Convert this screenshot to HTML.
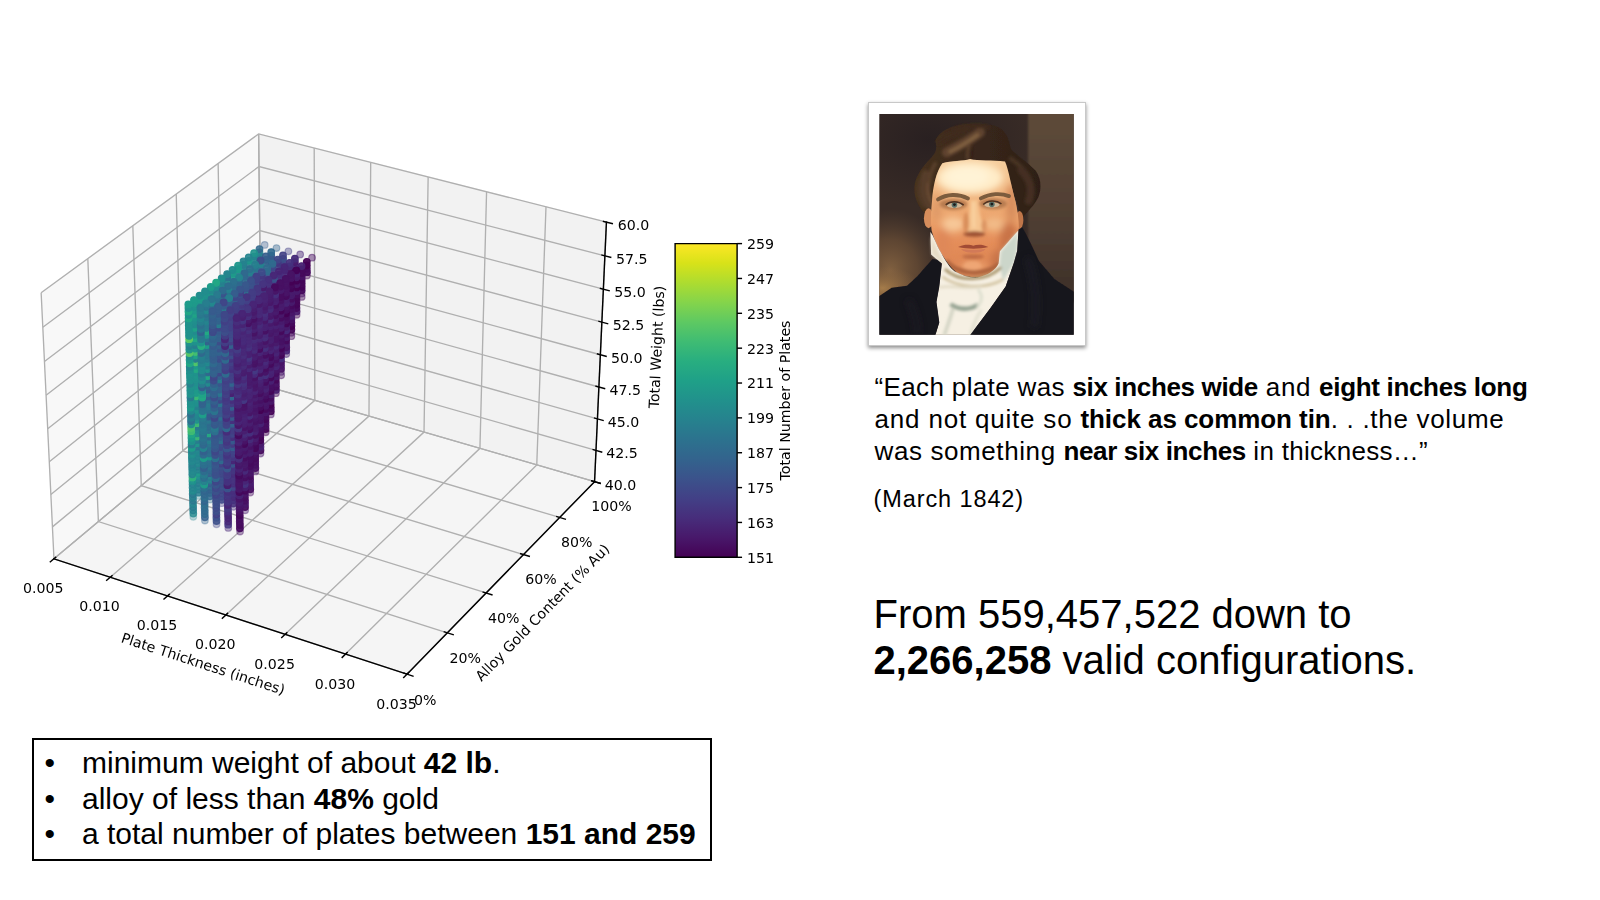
<!DOCTYPE html>
<html lang="en">
<head>
<meta charset="utf-8">
<title>Valid configurations</title>
<style>
html,body{margin:0;padding:0;background:#fff;}
body{width:1600px;height:900px;position:relative;overflow:hidden;font-family:"Liberation Sans",sans-serif;color:#000;}
#plot{filter:blur(.35px);}
#plot text{font-family:"DejaVu Sans",sans-serif;font-size:10px;fill:#000;}
.ln{position:absolute;white-space:nowrap;line-height:1;}
.q{font-size:26px;}
.q b,.f b,.bl b{font-weight:700;}
.f{font-size:40px;}
#box{position:absolute;left:32px;top:737.7px;width:680px;height:123.6px;border:2.4px solid #000;box-sizing:border-box;}
.bl{font-size:30px;}
.bu{display:inline-block;width:37.5px;}
#frame{position:absolute;left:867.7px;top:101.8px;width:218.2px;height:244.5px;background:#fff;box-shadow:0 1.5px 4px rgba(0,0,0,.45);border:1px solid #c8c8c8;box-sizing:border-box;}
</style>
</head>
<body>
<svg id="plot" width="840" height="680" viewBox="0 0 592.760 479.853" style="position:absolute;left:0px;top:60px">
<path d="M38.08 352.01L184.54 229.24L182.5 52.19L29.03 164.19" fill="#f2f2f2" stroke="#f2f2f2" stroke-width="1" opacity="0.5" stroke-linejoin="miter"/>
<path d="M184.54 229.24L419.56 297.55L427.94 114.4L182.5 52.19" fill="#e6e6e6" stroke="#e6e6e6" stroke-width="1" opacity="0.5" stroke-linejoin="miter"/>
<path d="M38.08 352.01L287.21 433.38L419.56 297.55L184.54 229.24" fill="#ececec" stroke="#ececec" stroke-width="1" opacity="0.5" stroke-linejoin="miter"/>
<path d="M38.08 352.01L184.54 229.24L182.5 52.19" fill="none" stroke="#b0b0b0" stroke-width="0.95"/>
<path d="M77.8 364.98L222.15 240.18L221.72 62.13" fill="none" stroke="#b0b0b0" stroke-width="0.95"/>
<path d="M118.23 378.19L260.37 251.28L261.59 72.24" fill="none" stroke="#b0b0b0" stroke-width="0.95"/>
<path d="M159.36 391.62L299.21 262.57L302.13 82.51" fill="none" stroke="#b0b0b0" stroke-width="0.95"/>
<path d="M201.22 405.29L338.67 274.04L343.36 92.96" fill="none" stroke="#b0b0b0" stroke-width="0.95"/>
<path d="M243.83 419.21L378.78 285.7L385.29 103.59" fill="none" stroke="#b0b0b0" stroke-width="0.95"/>
<path d="M287.21 433.38L419.56 297.55L427.94 114.4" fill="none" stroke="#b0b0b0" stroke-width="0.95"/>
<path d="M29.03 164.19L38.08 352.01L287.21 433.38" fill="none" stroke="#b0b0b0" stroke-width="0.95"/>
<path d="M61.97 140.15L69.42 325.74L315.63 404.21" fill="none" stroke="#b0b0b0" stroke-width="0.95"/>
<path d="M93.73 116.97L99.68 300.37L343.02 376.1" fill="none" stroke="#b0b0b0" stroke-width="0.95"/>
<path d="M124.36 94.62L128.92 275.86L369.44 348.99" fill="none" stroke="#b0b0b0" stroke-width="0.95"/>
<path d="M153.93 73.04L157.19 252.16L394.93 322.82" fill="none" stroke="#b0b0b0" stroke-width="0.95"/>
<path d="M182.5 52.19L184.54 229.24L419.56 297.55" fill="none" stroke="#b0b0b0" stroke-width="0.95"/>
<path d="M419.56 297.55L184.54 229.24L38.08 352.01" fill="none" stroke="#b0b0b0" stroke-width="0.95"/>
<path d="M420.56 275.52L184.29 207.91L36.99 329.45" fill="none" stroke="#b0b0b0" stroke-width="0.95"/>
<path d="M421.58 253.25L184.04 186.35L35.89 306.64" fill="none" stroke="#b0b0b0" stroke-width="0.95"/>
<path d="M422.62 230.74L183.79 164.57L34.78 283.57" fill="none" stroke="#b0b0b0" stroke-width="0.95"/>
<path d="M423.66 207.98L183.54 142.56L33.66 260.23" fill="none" stroke="#b0b0b0" stroke-width="0.95"/>
<path d="M424.71 184.97L183.28 120.32L32.52 236.63" fill="none" stroke="#b0b0b0" stroke-width="0.95"/>
<path d="M425.78 161.71L183.03 97.85L31.37 212.76" fill="none" stroke="#b0b0b0" stroke-width="0.95"/>
<path d="M426.85 138.19L182.76 75.14L30.21 188.61" fill="none" stroke="#b0b0b0" stroke-width="0.95"/>
<path d="M427.94 114.4L182.5 52.19L29.03 164.19" fill="none" stroke="#b0b0b0" stroke-width="0.95"/>
<path d="M38.08 352.01L287.21 433.38" fill="none" stroke="#000" stroke-width="1" stroke-linecap="square"/>
<path d="M39.35 350.94L35.52 354.15" fill="none" stroke="#000" stroke-width="1" stroke-linecap="square"/>
<text x="30.55" y="375.83" text-anchor="middle">0.005</text>
<path d="M79.06 363.9L75.28 367.16" fill="none" stroke="#000" stroke-width="1" stroke-linecap="square"/>
<text x="70.30" y="388.97" text-anchor="middle">0.010</text>
<path d="M119.46 377.08L115.74 380.4" fill="none" stroke="#000" stroke-width="1" stroke-linecap="square"/>
<text x="110.75" y="402.34" text-anchor="middle">0.015</text>
<path d="M160.58 390.49L156.91 393.88" fill="none" stroke="#000" stroke-width="1" stroke-linecap="square"/>
<text x="151.91" y="415.95" text-anchor="middle">0.020</text>
<path d="M202.42 404.15L198.81 407.59" fill="none" stroke="#000" stroke-width="1" stroke-linecap="square"/>
<text x="193.80" y="429.79" text-anchor="middle">0.025</text>
<path d="M245.01 418.04L241.46 421.55" fill="none" stroke="#000" stroke-width="1" stroke-linecap="square"/>
<text x="236.44" y="443.89" text-anchor="middle">0.030</text>
<path d="M288.36 432.19L284.89 435.76" fill="none" stroke="#000" stroke-width="1" stroke-linecap="square"/>
<text x="279.85" y="458.24" text-anchor="middle">0.035</text>
<text x="142.26" y="429.40" transform="rotate(-341.913 142.26 429.40)" text-anchor="middle">Plate Thickness (inches)</text>
<path d="M419.56 297.55L287.21 433.38" fill="none" stroke="#000" stroke-width="1" stroke-linecap="square"/>
<path d="M285.11 432.69L291.41 434.75" fill="none" stroke="#000" stroke-width="1" stroke-linecap="square"/>
<text x="300.16" y="455.08" text-anchor="middle">0%</text>
<path d="M313.55 403.55L319.78 405.53" fill="none" stroke="#000" stroke-width="1" stroke-linecap="square"/>
<text x="328.35" y="425.65" text-anchor="middle">20%</text>
<path d="M340.97 375.46L347.12 377.38" fill="none" stroke="#000" stroke-width="1" stroke-linecap="square"/>
<text x="355.52" y="397.29" text-anchor="middle">40%</text>
<path d="M367.42 348.37L373.49 350.22" fill="none" stroke="#000" stroke-width="1" stroke-linecap="square"/>
<text x="381.73" y="369.94" text-anchor="middle">60%</text>
<path d="M392.94 322.23L398.93 324.01" fill="none" stroke="#000" stroke-width="1" stroke-linecap="square"/>
<text x="407.02" y="343.54" text-anchor="middle">80%</text>
<path d="M417.58 296.98L423.51 298.7" fill="none" stroke="#000" stroke-width="1" stroke-linecap="square"/>
<text x="431.44" y="318.05" text-anchor="middle">100%</text>
<text x="385.28" y="392.35" transform="rotate(-45.742 385.28 392.35)" text-anchor="middle">Alloy Gold Content (% Au)</text>
<path d="M419.56 297.55L427.94 114.4" fill="none" stroke="#000" stroke-width="1" stroke-linecap="square"/>
<path d="M417.58 296.98L423.51 298.7" fill="none" stroke="#000" stroke-width="1" stroke-linecap="square"/>
<text x="437.83" y="303.14" text-anchor="middle">40.0</text>
<path d="M418.58 274.95L424.54 276.66" fill="none" stroke="#000" stroke-width="1" stroke-linecap="square"/>
<text x="438.93" y="281.14" text-anchor="middle">42.5</text>
<path d="M419.59 252.69L425.58 254.38" fill="none" stroke="#000" stroke-width="1" stroke-linecap="square"/>
<text x="440.05" y="258.90" text-anchor="middle">45.0</text>
<path d="M420.61 230.19L426.63 231.85" fill="none" stroke="#000" stroke-width="1" stroke-linecap="square"/>
<text x="441.18" y="236.41" text-anchor="middle">47.5</text>
<path d="M421.64 207.43L427.7 209.08" fill="none" stroke="#000" stroke-width="1" stroke-linecap="square"/>
<text x="442.32" y="213.68" text-anchor="middle">50.0</text>
<path d="M422.68 184.43L428.77 186.06" fill="none" stroke="#000" stroke-width="1" stroke-linecap="square"/>
<text x="443.47" y="190.70" text-anchor="middle">52.5</text>
<path d="M423.74 161.17L429.86 162.79" fill="none" stroke="#000" stroke-width="1" stroke-linecap="square"/>
<text x="444.64" y="167.47" text-anchor="middle">55.0</text>
<path d="M424.8 137.66L430.96 139.25" fill="none" stroke="#000" stroke-width="1" stroke-linecap="square"/>
<text x="445.82" y="143.98" text-anchor="middle">57.5</text>
<path d="M425.88 113.88L432.08 115.45" fill="none" stroke="#000" stroke-width="1" stroke-linecap="square"/>
<text x="447.01" y="120.22" text-anchor="middle">60.0</text>
<text x="466.90" y="202.69" transform="rotate(-87.378 466.90 202.69)" text-anchor="middle">Total Weight (lbs)</text>
<g class="sc" stroke-width=".8"><g fill-opacity="0.30" stroke-opacity="0.30"><circle r="2.35" cx="136.4" cy="322.4" fill="#25838e" stroke="#25838e"/><circle r="2.35" cx="140.0" cy="307.6" fill="#26828e" stroke="#26828e"/></g><g fill-opacity="0.75" stroke-opacity="0.75"><circle r="2.35" cx="136.4" cy="320.1" fill="#238a8d" stroke="#238a8d"/></g><g fill-opacity="0.30" stroke-opacity="0.30"><circle r="2.35" cx="143.6" cy="295.1" fill="#25838e" stroke="#25838e"/><circle r="2.35" cx="147.2" cy="280.3" fill="#20938c" stroke="#20938c"/><circle r="2.35" cx="150.8" cy="267.7" fill="#25848e" stroke="#25848e"/></g><g fill-opacity="0.80" stroke-opacity="0.80"><circle r="2.35" cx="143.6" cy="292.8" fill="#287d8e" stroke="#287d8e"/><circle r="2.35" cx="139.9" cy="305.3" fill="#277e8e" stroke="#277e8e"/><circle r="2.35" cx="136.3" cy="317.8" fill="#26818e" stroke="#26818e"/></g><g fill-opacity="0.35" stroke-opacity="0.35"><circle r="2.35" cx="158.0" cy="240.4" fill="#1e9c89" stroke="#1e9c89"/></g><g fill-opacity="0.80" stroke-opacity="0.80"><circle r="2.35" cx="150.7" cy="265.4" fill="#2fb47c" stroke="#2fb47c"/><circle r="2.35" cx="136.3" cy="315.5" fill="#287c8e" stroke="#287c8e"/><circle r="2.35" cx="143.5" cy="290.5" fill="#26828e" stroke="#26828e"/><circle r="2.35" cx="147.1" cy="277.9" fill="#24878e" stroke="#24878e"/><circle r="2.35" cx="139.9" cy="303.0" fill="#277e8e" stroke="#277e8e"/></g><g fill-opacity="0.35" stroke-opacity="0.35"><circle r="2.35" cx="154.4" cy="252.9" fill="#2fb47c" stroke="#2fb47c"/><circle r="2.35" cx="144.6" cy="325.0" fill="#32658e" stroke="#32658e"/><circle r="2.35" cx="165.2" cy="212.9" fill="#25858e" stroke="#25858e"/></g><g fill-opacity="0.80" stroke-opacity="0.80"><circle r="2.35" cx="143.5" cy="288.2" fill="#26828e" stroke="#26828e"/></g><g fill-opacity="0.35" stroke-opacity="0.35"><circle r="2.35" cx="161.5" cy="225.5" fill="#24878e" stroke="#24878e"/></g><g fill-opacity="0.80" stroke-opacity="0.80"><circle r="2.35" cx="139.8" cy="300.7" fill="#25858e" stroke="#25858e"/><circle r="2.35" cx="150.7" cy="263.1" fill="#26828e" stroke="#26828e"/><circle r="2.35" cx="157.9" cy="238.0" fill="#26818e" stroke="#26818e"/><circle r="2.35" cx="154.3" cy="250.5" fill="#2e6e8e" stroke="#2e6e8e"/><circle r="2.35" cx="136.2" cy="313.2" fill="#24868e" stroke="#24868e"/></g><g fill-opacity="0.35" stroke-opacity="0.35"><circle r="2.35" cx="148.2" cy="310.2" fill="#2e6f8e" stroke="#2e6f8e"/></g><g fill-opacity="0.80" stroke-opacity="0.80"><circle r="2.35" cx="144.6" cy="322.7" fill="#34608d" stroke="#34608d"/></g><g fill-opacity="0.35" stroke-opacity="0.35"><circle r="2.35" cx="151.8" cy="297.6" fill="#31668e" stroke="#31668e"/></g><g fill-opacity="0.80" stroke-opacity="0.80"><circle r="2.35" cx="143.4" cy="285.8" fill="#2eb37c" stroke="#2eb37c"/><circle r="2.35" cx="157.9" cy="235.7" fill="#25858e" stroke="#25858e"/></g><g fill-opacity="0.35" stroke-opacity="0.35"><circle r="2.35" cx="165.1" cy="210.6" fill="#228d8d" stroke="#228d8d"/></g><g fill-opacity="0.80" stroke-opacity="0.80"><circle r="2.35" cx="139.8" cy="298.4" fill="#287c8e" stroke="#287c8e"/><circle r="2.35" cx="136.2" cy="310.9" fill="#2a778e" stroke="#2a778e"/></g><g fill-opacity="0.35" stroke-opacity="0.35"><circle r="2.35" cx="172.4" cy="185.5" fill="#27808e" stroke="#27808e"/><circle r="2.35" cx="168.8" cy="198.0" fill="#25838e" stroke="#25838e"/></g><g fill-opacity="0.80" stroke-opacity="0.80"><circle r="2.35" cx="161.5" cy="223.1" fill="#23898e" stroke="#23898e"/><circle r="2.35" cx="144.5" cy="320.4" fill="#306a8e" stroke="#306a8e"/><circle r="2.35" cx="151.8" cy="295.3" fill="#30698e" stroke="#30698e"/></g><g fill-opacity="0.35" stroke-opacity="0.35"><circle r="2.35" cx="159.0" cy="270.2" fill="#31668e" stroke="#31668e"/></g><g fill-opacity="0.80" stroke-opacity="0.80"><circle r="2.35" cx="148.1" cy="307.9" fill="#31668e" stroke="#31668e"/></g><g fill-opacity="0.35" stroke-opacity="0.35"><circle r="2.35" cx="155.4" cy="282.8" fill="#3a548c" stroke="#3a548c"/><circle r="2.35" cx="176.0" cy="170.5" fill="#20928c" stroke="#20928c"/></g><g fill-opacity="0.85" stroke-opacity="0.85"><circle r="2.35" cx="168.7" cy="195.7" fill="#23888e" stroke="#23888e"/><circle r="2.35" cx="143.4" cy="283.5" fill="#2a778e" stroke="#2a778e"/></g><g fill-opacity="0.35" stroke-opacity="0.35"><circle r="2.35" cx="172.3" cy="183.1" fill="#25858e" stroke="#25858e"/></g><g fill-opacity="0.85" stroke-opacity="0.85"><circle r="2.35" cx="165.1" cy="208.2" fill="#3aba76" stroke="#3aba76"/></g><g fill-opacity="0.35" stroke-opacity="0.35"><circle r="2.35" cx="179.6" cy="158.0" fill="#28ae80" stroke="#28ae80"/></g><g fill-opacity="0.85" stroke-opacity="0.85"><circle r="2.35" cx="139.7" cy="296.1" fill="#26828e" stroke="#26828e"/><circle r="2.35" cx="136.1" cy="308.6" fill="#27808e" stroke="#27808e"/><circle r="2.35" cx="144.5" cy="318.1" fill="#306a8e" stroke="#306a8e"/><circle r="2.35" cx="148.1" cy="305.5" fill="#30698e" stroke="#30698e"/></g><g fill-opacity="0.35" stroke-opacity="0.35"><circle r="2.35" cx="166.2" cy="242.8" fill="#1e9d89" stroke="#1e9d89"/><circle r="2.35" cx="162.6" cy="255.3" fill="#355f8d" stroke="#355f8d"/></g><g fill-opacity="0.85" stroke-opacity="0.85"><circle r="2.35" cx="151.7" cy="293.0" fill="#297b8e" stroke="#297b8e"/><circle r="2.35" cx="155.3" cy="280.4" fill="#34618d" stroke="#34618d"/><circle r="2.35" cx="159.0" cy="267.9" fill="#2e6e8e" stroke="#2e6e8e"/></g><g fill-opacity="0.35" stroke-opacity="0.35"><circle r="2.35" cx="152.8" cy="327.6" fill="#404588" stroke="#404588"/></g><g fill-opacity="0.85" stroke-opacity="0.85"><circle r="2.35" cx="139.7" cy="293.7" fill="#218e8d" stroke="#218e8d"/><circle r="2.35" cx="143.3" cy="281.2" fill="#27808e" stroke="#27808e"/></g><g fill-opacity="0.35" stroke-opacity="0.35"><circle r="2.35" cx="179.6" cy="155.6" fill="#25858e" stroke="#25858e"/></g><g fill-opacity="0.85" stroke-opacity="0.85"><circle r="2.35" cx="175.9" cy="168.2" fill="#277f8e" stroke="#277f8e"/><circle r="2.35" cx="172.3" cy="180.7" fill="#2e6d8e" stroke="#2e6d8e"/></g><g fill-opacity="0.35" stroke-opacity="0.35"><circle r="2.35" cx="186.8" cy="130.5" fill="#365d8d" stroke="#365d8d"/><circle r="2.35" cx="183.2" cy="143.0" fill="#287d8e" stroke="#287d8e"/></g><g fill-opacity="0.85" stroke-opacity="0.85"><circle r="2.35" cx="136.0" cy="306.3" fill="#29798e" stroke="#29798e"/><circle r="2.35" cx="162.5" cy="253.0" fill="#3b528b" stroke="#3b528b"/></g><g fill-opacity="0.35" stroke-opacity="0.35"><circle r="2.35" cx="173.4" cy="215.3" fill="#3d4e8a" stroke="#3d4e8a"/></g><g fill-opacity="0.85" stroke-opacity="0.85"><circle r="2.35" cx="158.9" cy="265.6" fill="#3c4f8a" stroke="#3c4f8a"/><circle r="2.35" cx="144.4" cy="315.8" fill="#2f6c8e" stroke="#2f6c8e"/></g><g fill-opacity="0.35" stroke-opacity="0.35"><circle r="2.35" cx="169.8" cy="227.9" fill="#32648e" stroke="#32648e"/></g><g fill-opacity="0.85" stroke-opacity="0.85"><circle r="2.35" cx="148.0" cy="303.2" fill="#34608d" stroke="#34608d"/><circle r="2.35" cx="166.2" cy="240.4" fill="#2d718e" stroke="#2d718e"/><circle r="2.35" cx="151.7" cy="290.7" fill="#27808e" stroke="#27808e"/></g><g fill-opacity="0.35" stroke-opacity="0.35"><circle r="2.35" cx="156.4" cy="312.7" fill="#424086" stroke="#424086"/><circle r="2.35" cx="160.0" cy="300.2" fill="#3d4e8a" stroke="#3d4e8a"/></g><g fill-opacity="0.85" stroke-opacity="0.85"><circle r="2.35" cx="152.8" cy="325.3" fill="#3c4f8a" stroke="#3c4f8a"/><circle r="2.35" cx="139.6" cy="291.4" fill="#1f998a" stroke="#1f998a"/><circle r="2.35" cx="183.2" cy="140.6" fill="#25858e" stroke="#25858e"/><circle r="2.35" cx="143.3" cy="278.9" fill="#26818e" stroke="#26818e"/><circle r="2.35" cx="136.0" cy="304.0" fill="#228b8d" stroke="#228b8d"/><circle r="2.35" cx="179.5" cy="153.2" fill="#25848e" stroke="#25848e"/><circle r="2.35" cx="166.1" cy="238.1" fill="#277e8e" stroke="#277e8e"/><circle r="2.35" cx="148.0" cy="300.9" fill="#31688e" stroke="#31688e"/><circle r="2.35" cx="169.8" cy="225.5" fill="#2b748e" stroke="#2b748e"/></g><g fill-opacity="0.35" stroke-opacity="0.35"><circle r="2.35" cx="180.6" cy="187.8" fill="#3a548c" stroke="#3a548c"/><circle r="2.35" cx="177.0" cy="200.4" fill="#2d708e" stroke="#2d708e"/></g><g fill-opacity="0.85" stroke-opacity="0.85"><circle r="2.35" cx="144.4" cy="313.5" fill="#2e6e8e" stroke="#2e6e8e"/><circle r="2.35" cx="151.6" cy="288.4" fill="#3b528b" stroke="#3b528b"/></g><g fill-opacity="0.35" stroke-opacity="0.35"><circle r="2.35" cx="173.4" cy="212.9" fill="#2d708e" stroke="#2d708e"/><circle r="2.35" cx="167.3" cy="272.7" fill="#3f4788" stroke="#3f4788"/></g><g fill-opacity="0.85" stroke-opacity="0.85"><circle r="2.35" cx="152.7" cy="323.0" fill="#3c508b" stroke="#3c508b"/><circle r="2.35" cx="156.4" cy="310.4" fill="#3e4a89" stroke="#3e4a89"/></g><g fill-opacity="0.35" stroke-opacity="0.35"><circle r="2.35" cx="163.6" cy="285.3" fill="#3c4f8a" stroke="#3c4f8a"/></g><g fill-opacity="0.85" stroke-opacity="0.85"><circle r="2.35" cx="160.0" cy="297.8" fill="#3e4989" stroke="#3e4989"/><circle r="2.35" cx="183.1" cy="138.2" fill="#287d8e" stroke="#287d8e"/><circle r="2.35" cx="139.6" cy="289.1" fill="#25838e" stroke="#25838e"/><circle r="2.35" cx="135.9" cy="301.7" fill="#25858e" stroke="#25858e"/><circle r="2.35" cx="143.2" cy="276.5" fill="#23888e" stroke="#23888e"/><circle r="2.35" cx="177.0" cy="198.0" fill="#2d718e" stroke="#2d718e"/><circle r="2.35" cx="144.3" cy="311.2" fill="#32648e" stroke="#32648e"/><circle r="2.35" cx="173.4" cy="210.6" fill="#2a778e" stroke="#2a778e"/><circle r="2.35" cx="147.9" cy="298.6" fill="#355e8d" stroke="#355e8d"/></g><g fill-opacity="0.40" stroke-opacity="0.40"><circle r="2.35" cx="184.2" cy="172.9" fill="#39568c" stroke="#39568c"/></g><g fill-opacity="0.85" stroke-opacity="0.85"><circle r="2.35" cx="151.6" cy="286.0" fill="#306a8e" stroke="#306a8e"/></g><g fill-opacity="0.40" stroke-opacity="0.40"><circle r="2.35" cx="180.6" cy="185.4" fill="#31688e" stroke="#31688e"/><circle r="2.35" cx="187.9" cy="160.3" fill="#32658e" stroke="#32658e"/></g><g fill-opacity="0.85" stroke-opacity="0.85"><circle r="2.35" cx="152.7" cy="320.7" fill="#424186" stroke="#424186"/><circle r="2.35" cx="163.6" cy="282.9" fill="#3d4e8a" stroke="#3d4e8a"/><circle r="2.35" cx="156.3" cy="308.1" fill="#3e4a89" stroke="#3e4a89"/></g><g fill-opacity="0.40" stroke-opacity="0.40"><circle r="2.35" cx="170.8" cy="257.8" fill="#3c4f8a" stroke="#3c4f8a"/><circle r="2.35" cx="174.5" cy="245.2" fill="#443b84" stroke="#443b84"/></g><g fill-opacity="0.85" stroke-opacity="0.85"><circle r="2.35" cx="167.2" cy="270.4" fill="#3e4a89" stroke="#3e4a89"/><circle r="2.35" cx="160.0" cy="295.5" fill="#424186" stroke="#424186"/></g><g fill-opacity="0.40" stroke-opacity="0.40"><circle r="2.35" cx="161.1" cy="330.2" fill="#482979" stroke="#482979"/></g><g fill-opacity="0.85" stroke-opacity="0.85"><circle r="2.35" cx="135.9" cy="299.4" fill="#25838e" stroke="#25838e"/><circle r="2.35" cx="183.1" cy="135.8" fill="#26818e" stroke="#26818e"/><circle r="2.35" cx="139.5" cy="286.8" fill="#297b8e" stroke="#297b8e"/><circle r="2.35" cx="143.1" cy="274.2" fill="#238a8d" stroke="#238a8d"/><circle r="2.35" cx="147.9" cy="296.3" fill="#26828e" stroke="#26828e"/><circle r="2.35" cx="151.5" cy="283.7" fill="#32658e" stroke="#32658e"/><circle r="2.35" cx="184.2" cy="170.5" fill="#1f998a" stroke="#1f998a"/><circle r="2.35" cx="180.6" cy="183.0" fill="#3d4d8a" stroke="#3d4d8a"/></g><g fill-opacity="0.40" stroke-opacity="0.40"><circle r="2.35" cx="191.5" cy="145.3" fill="#32648e" stroke="#32648e"/><circle r="2.35" cx="187.9" cy="157.9" fill="#32648e" stroke="#32648e"/><circle r="2.35" cx="195.1" cy="132.7" fill="#32658e" stroke="#32658e"/></g><g fill-opacity="0.85" stroke-opacity="0.85"><circle r="2.35" cx="144.3" cy="308.9" fill="#2e6e8e" stroke="#2e6e8e"/><circle r="2.35" cx="159.9" cy="293.2" fill="#424086" stroke="#424086"/><circle r="2.35" cx="167.2" cy="268.0" fill="#443a83" stroke="#443a83"/><circle r="2.35" cx="170.8" cy="255.4" fill="#404688" stroke="#404688"/><circle r="2.35" cx="156.3" cy="305.8" fill="#3f4889" stroke="#3f4889"/></g><g fill-opacity="0.40" stroke-opacity="0.40"><circle r="2.35" cx="178.1" cy="230.3" fill="#306a8e" stroke="#306a8e"/><circle r="2.35" cx="181.7" cy="217.7" fill="#3f4788" stroke="#3f4788"/></g><g fill-opacity="0.85" stroke-opacity="0.85"><circle r="2.35" cx="152.7" cy="318.4" fill="#3c4f8a" stroke="#3c4f8a"/><circle r="2.35" cx="174.4" cy="242.9" fill="#414487" stroke="#414487"/><circle r="2.35" cx="161.0" cy="327.9" fill="#453882" stroke="#453882"/></g><g fill-opacity="0.40" stroke-opacity="0.40"><circle r="2.35" cx="164.7" cy="315.3" fill="#472d7b" stroke="#472d7b"/><circle r="2.35" cx="168.3" cy="302.7" fill="#46327e" stroke="#46327e"/></g><g fill-opacity="0.85" stroke-opacity="0.85"><circle r="2.35" cx="135.8" cy="297.0" fill="#1f948c" stroke="#1f948c"/><circle r="2.35" cx="139.5" cy="284.4" fill="#238a8d" stroke="#238a8d"/><circle r="2.35" cx="183.1" cy="133.4" fill="#31688e" stroke="#31688e"/><circle r="2.35" cx="143.1" cy="271.9" fill="#24868e" stroke="#24868e"/><circle r="2.35" cx="151.5" cy="281.4" fill="#2e6e8e" stroke="#2e6e8e"/><circle r="2.35" cx="147.9" cy="294.0" fill="#287c8e" stroke="#287c8e"/><circle r="2.35" cx="144.2" cy="306.5" fill="#31678e" stroke="#31678e"/><circle r="2.35" cx="191.5" cy="142.9" fill="#355f8d" stroke="#355f8d"/><circle r="2.35" cx="187.8" cy="155.5" fill="#34608d" stroke="#34608d"/><circle r="2.35" cx="152.6" cy="316.0" fill="#3e4989" stroke="#3e4989"/><circle r="2.35" cx="156.2" cy="303.5" fill="#3f4788" stroke="#3f4788"/><circle r="2.35" cx="159.9" cy="290.9" fill="#404688" stroke="#404688"/></g><g fill-opacity="0.40" stroke-opacity="0.40"><circle r="2.35" cx="185.3" cy="202.7" fill="#3d4e8a" stroke="#3d4e8a"/><circle r="2.35" cx="181.7" cy="215.3" fill="#3c508b" stroke="#3c508b"/></g><g fill-opacity="0.85" stroke-opacity="0.85"><circle r="2.35" cx="174.4" cy="240.5" fill="#3e4a89" stroke="#3e4a89"/><circle r="2.35" cx="178.0" cy="227.9" fill="#3d4e8a" stroke="#3d4e8a"/></g><g fill-opacity="0.40" stroke-opacity="0.40"><circle r="2.35" cx="188.9" cy="190.2" fill="#375a8c" stroke="#375a8c"/><circle r="2.35" cx="171.9" cy="287.8" fill="#453882" stroke="#453882"/></g><g fill-opacity="0.85" stroke-opacity="0.85"><circle r="2.35" cx="161.0" cy="325.6" fill="#482878" stroke="#482878"/></g><g fill-opacity="0.40" stroke-opacity="0.40"><circle r="2.35" cx="175.5" cy="275.2" fill="#482374" stroke="#482374"/></g><g fill-opacity="0.85" stroke-opacity="0.85"><circle r="2.35" cx="164.6" cy="313.0" fill="#46327e" stroke="#46327e"/><circle r="2.35" cx="168.3" cy="300.4" fill="#472a7a" stroke="#472a7a"/></g><g fill-opacity="0.90" stroke-opacity="0.90"><circle r="2.35" cx="139.4" cy="282.1" fill="#25848e" stroke="#25848e"/><circle r="2.35" cx="143.0" cy="269.5" fill="#26828e" stroke="#26828e"/><circle r="2.35" cx="135.8" cy="294.7" fill="#2fb47c" stroke="#2fb47c"/><circle r="2.35" cx="144.2" cy="304.2" fill="#32658e" stroke="#32658e"/><circle r="2.35" cx="191.4" cy="140.5" fill="#33638d" stroke="#33638d"/><circle r="2.35" cx="147.8" cy="291.6" fill="#355e8d" stroke="#355e8d"/><circle r="2.35" cx="151.4" cy="279.0" fill="#1fa188" stroke="#1fa188"/><circle r="2.35" cx="185.3" cy="200.4" fill="#3f4788" stroke="#3f4788"/></g><g fill-opacity="0.40" stroke-opacity="0.40"><circle r="2.35" cx="188.9" cy="187.8" fill="#3e4989" stroke="#3e4989"/><circle r="2.35" cx="192.6" cy="175.2" fill="#46307e" stroke="#46307e"/></g><g fill-opacity="0.90" stroke-opacity="0.90"><circle r="2.35" cx="181.7" cy="213.0" fill="#3b528b" stroke="#3b528b"/></g><g fill-opacity="0.40" stroke-opacity="0.40"><circle r="2.35" cx="196.2" cy="162.6" fill="#443b84" stroke="#443b84"/></g><g fill-opacity="0.90" stroke-opacity="0.90"><circle r="2.35" cx="159.8" cy="288.5" fill="#3b528b" stroke="#3b528b"/><circle r="2.35" cx="156.2" cy="301.1" fill="#3c508b" stroke="#3c508b"/><circle r="2.35" cx="152.6" cy="313.7" fill="#3d4e8a" stroke="#3d4e8a"/><circle r="2.35" cx="175.5" cy="272.9" fill="#443a83" stroke="#443a83"/></g><g fill-opacity="0.40" stroke-opacity="0.40"><circle r="2.35" cx="182.8" cy="247.7" fill="#46327e" stroke="#46327e"/><circle r="2.35" cx="179.1" cy="260.3" fill="#482576" stroke="#482576"/></g><g fill-opacity="0.90" stroke-opacity="0.90"><circle r="2.35" cx="171.9" cy="285.5" fill="#482475" stroke="#482475"/><circle r="2.35" cx="164.6" cy="310.6" fill="#46327e" stroke="#46327e"/><circle r="2.35" cx="168.2" cy="298.1" fill="#481668" stroke="#481668"/><circle r="2.35" cx="161.0" cy="323.2" fill="#482475" stroke="#482475"/></g><g fill-opacity="0.40" stroke-opacity="0.40"><circle r="2.35" cx="169.4" cy="332.8" fill="#471164" stroke="#471164"/></g><g fill-opacity="0.90" stroke-opacity="0.90"><circle r="2.35" cx="179.4" cy="141.2" fill="#287d8e" stroke="#287d8e"/><circle r="2.35" cx="139.4" cy="279.8" fill="#25848e" stroke="#25848e"/><circle r="2.35" cx="143.0" cy="267.2" fill="#20938c" stroke="#20938c"/><circle r="2.35" cx="135.7" cy="292.4" fill="#25848e" stroke="#25848e"/><circle r="2.35" cx="191.4" cy="138.1" fill="#375a8c" stroke="#375a8c"/><circle r="2.35" cx="147.8" cy="289.3" fill="#30698e" stroke="#30698e"/><circle r="2.35" cx="151.4" cy="276.7" fill="#2e6e8e" stroke="#2e6e8e"/><circle r="2.35" cx="144.1" cy="301.9" fill="#2d708e" stroke="#2d708e"/><circle r="2.35" cx="159.8" cy="286.2" fill="#3f4889" stroke="#3f4889"/></g><g fill-opacity="0.40" stroke-opacity="0.40"><circle r="2.35" cx="196.2" cy="160.2" fill="#3f4889" stroke="#3f4889"/></g><g fill-opacity="0.90" stroke-opacity="0.90"><circle r="2.35" cx="152.5" cy="311.4" fill="#3d4e8a" stroke="#3d4e8a"/></g><g fill-opacity="0.40" stroke-opacity="0.40"><circle r="2.35" cx="203.5" cy="135.0" fill="#423f85" stroke="#423f85"/></g><g fill-opacity="0.90" stroke-opacity="0.90"><circle r="2.35" cx="188.9" cy="185.4" fill="#3d4e8a" stroke="#3d4e8a"/><circle r="2.35" cx="192.5" cy="172.8" fill="#3b518b" stroke="#3b518b"/></g><g fill-opacity="0.40" stroke-opacity="0.40"><circle r="2.35" cx="199.8" cy="147.6" fill="#31668e" stroke="#31668e"/></g><g fill-opacity="0.90" stroke-opacity="0.90"><circle r="2.35" cx="156.2" cy="298.8" fill="#3c4f8a" stroke="#3c4f8a"/></g><g fill-opacity="0.40" stroke-opacity="0.40"><circle r="2.35" cx="190.0" cy="220.1" fill="#472f7d" stroke="#472f7d"/></g><g fill-opacity="0.90" stroke-opacity="0.90"><circle r="2.35" cx="168.2" cy="295.7" fill="#482878" stroke="#482878"/><circle r="2.35" cx="164.6" cy="308.3" fill="#472a7a" stroke="#472a7a"/><circle r="2.35" cx="160.9" cy="320.9" fill="#482576" stroke="#482576"/><circle r="2.35" cx="175.5" cy="270.5" fill="#482374" stroke="#482374"/><circle r="2.35" cx="179.1" cy="257.9" fill="#471365" stroke="#471365"/><circle r="2.35" cx="182.7" cy="245.3" fill="#472f7d" stroke="#472f7d"/></g><g fill-opacity="0.40" stroke-opacity="0.40"><circle r="2.35" cx="186.4" cy="232.7" fill="#472c7a" stroke="#472c7a"/><circle r="2.35" cx="176.6" cy="305.2" fill="#460b5e" stroke="#460b5e"/></g><g fill-opacity="0.90" stroke-opacity="0.90"><circle r="2.35" cx="169.3" cy="330.5" fill="#460b5e" stroke="#460b5e"/></g><g fill-opacity="0.40" stroke-opacity="0.40"><circle r="2.35" cx="173.0" cy="317.8" fill="#481b6d" stroke="#481b6d"/></g><g fill-opacity="0.90" stroke-opacity="0.90"><circle r="2.35" cx="142.9" cy="264.8" fill="#1e9d89" stroke="#1e9d89"/><circle r="2.35" cx="179.3" cy="138.7" fill="#25848e" stroke="#25848e"/><circle r="2.35" cx="135.7" cy="290.0" fill="#238a8d" stroke="#238a8d"/><circle r="2.35" cx="139.3" cy="277.4" fill="#25858e" stroke="#25858e"/><circle r="2.35" cx="151.3" cy="274.4" fill="#31678e" stroke="#31678e"/><circle r="2.35" cx="191.4" cy="135.6" fill="#30698e" stroke="#30698e"/><circle r="2.35" cx="144.1" cy="299.6" fill="#1e9d89" stroke="#1e9d89"/><circle r="2.35" cx="147.7" cy="287.0" fill="#2c728e" stroke="#2c728e"/><circle r="2.35" cx="152.5" cy="309.1" fill="#3d4e8a" stroke="#3d4e8a"/><circle r="2.35" cx="156.1" cy="296.5" fill="#3d4e8a" stroke="#3d4e8a"/><circle r="2.35" cx="159.8" cy="283.9" fill="#404588" stroke="#404588"/><circle r="2.35" cx="196.2" cy="157.8" fill="#414287" stroke="#414287"/><circle r="2.35" cx="199.8" cy="145.2" fill="#463480" stroke="#463480"/></g><g fill-opacity="0.45" stroke-opacity="0.45"><circle r="2.35" cx="193.6" cy="205.1" fill="#39558c" stroke="#39558c"/></g><g fill-opacity="0.90" stroke-opacity="0.90"><circle r="2.35" cx="160.9" cy="318.6" fill="#46307e" stroke="#46307e"/><circle r="2.35" cx="186.4" cy="230.3" fill="#472e7c" stroke="#472e7c"/><circle r="2.35" cx="182.7" cy="243.0" fill="#443b84" stroke="#443b84"/></g><g fill-opacity="0.45" stroke-opacity="0.45"><circle r="2.35" cx="190.0" cy="217.7" fill="#482677" stroke="#482677"/></g><g fill-opacity="0.90" stroke-opacity="0.90"><circle r="2.35" cx="164.5" cy="306.0" fill="#46307e" stroke="#46307e"/><circle r="2.35" cx="168.2" cy="293.4" fill="#48186a" stroke="#48186a"/></g><g fill-opacity="0.45" stroke-opacity="0.45"><circle r="2.35" cx="197.3" cy="192.5" fill="#443983" stroke="#443983"/></g><g fill-opacity="0.90" stroke-opacity="0.90"><circle r="2.35" cx="176.6" cy="302.9" fill="#470d60" stroke="#470d60"/></g><g fill-opacity="0.45" stroke-opacity="0.45"><circle r="2.35" cx="180.2" cy="290.3" fill="#481467" stroke="#481467"/></g><g fill-opacity="0.90" stroke-opacity="0.90"><circle r="2.35" cx="172.9" cy="315.5" fill="#460b5e" stroke="#460b5e"/><circle r="2.35" cx="169.3" cy="328.1" fill="#460a5d" stroke="#460a5d"/></g><g fill-opacity="0.45" stroke-opacity="0.45"><circle r="2.35" cx="183.8" cy="277.7" fill="#481668" stroke="#481668"/></g><g fill-opacity="0.90" stroke-opacity="0.90"><circle r="2.35" cx="179.3" cy="136.3" fill="#20928c" stroke="#20928c"/><circle r="2.35" cx="142.9" cy="262.5" fill="#26828e" stroke="#26828e"/><circle r="2.35" cx="135.6" cy="287.7" fill="#24868e" stroke="#24868e"/><circle r="2.35" cx="139.3" cy="275.1" fill="#24878e" stroke="#24878e"/><circle r="2.35" cx="151.3" cy="272.0" fill="#1e9b8a" stroke="#1e9b8a"/><circle r="2.35" cx="147.7" cy="284.6" fill="#2f6c8e" stroke="#2f6c8e"/><circle r="2.35" cx="144.0" cy="297.2" fill="#27808e" stroke="#27808e"/><circle r="2.35" cx="199.8" cy="142.7" fill="#3f4788" stroke="#3f4788"/><circle r="2.35" cx="152.4" cy="306.8" fill="#404588" stroke="#404588"/><circle r="2.35" cx="159.7" cy="281.5" fill="#424186" stroke="#424186"/><circle r="2.35" cx="156.1" cy="294.2" fill="#3c508b" stroke="#3c508b"/></g><g fill-opacity="0.45" stroke-opacity="0.45"><circle r="2.35" cx="200.9" cy="177.5" fill="#482878" stroke="#482878"/></g><g fill-opacity="0.90" stroke-opacity="0.90"><circle r="2.35" cx="190.0" cy="215.4" fill="#472d7b" stroke="#472d7b"/><circle r="2.35" cx="164.5" cy="303.7" fill="#472f7d" stroke="#472f7d"/><circle r="2.35" cx="168.1" cy="291.1" fill="#481668" stroke="#481668"/><circle r="2.35" cx="160.8" cy="316.3" fill="#453781" stroke="#453781"/></g><g fill-opacity="0.45" stroke-opacity="0.45"><circle r="2.35" cx="204.5" cy="164.9" fill="#482374" stroke="#482374"/></g><g fill-opacity="0.90" stroke-opacity="0.90"><circle r="2.35" cx="193.6" cy="202.7" fill="#472f7d" stroke="#472f7d"/></g><g fill-opacity="0.45" stroke-opacity="0.45"><circle r="2.35" cx="197.3" cy="190.1" fill="#472c7a" stroke="#472c7a"/></g><g fill-opacity="0.90" stroke-opacity="0.90"><circle r="2.35" cx="180.2" cy="288.0" fill="#470d60" stroke="#470d60"/></g><g fill-opacity="0.45" stroke-opacity="0.45"><circle r="2.35" cx="191.1" cy="250.1" fill="#471063" stroke="#471063"/></g><g fill-opacity="0.90" stroke-opacity="0.90"><circle r="2.35" cx="176.5" cy="300.6" fill="#481769" stroke="#481769"/><circle r="2.35" cx="169.2" cy="325.8" fill="#470d60" stroke="#470d60"/></g><g fill-opacity="0.45" stroke-opacity="0.45"><circle r="2.35" cx="187.5" cy="262.7" fill="#440154" stroke="#440154"/></g><g fill-opacity="0.90" stroke-opacity="0.90"><circle r="2.35" cx="183.8" cy="275.4" fill="#460a5d" stroke="#460a5d"/><circle r="2.35" cx="172.9" cy="313.2" fill="#481a6c" stroke="#481a6c"/><circle r="2.35" cx="142.8" cy="260.1" fill="#20928c" stroke="#20928c"/><circle r="2.35" cx="139.2" cy="272.8" fill="#2d718e" stroke="#2d718e"/><circle r="2.35" cx="135.6" cy="285.4" fill="#26818e" stroke="#26818e"/><circle r="2.35" cx="144.0" cy="294.9" fill="#2e6f8e" stroke="#2e6f8e"/><circle r="2.35" cx="147.6" cy="282.3" fill="#2e6f8e" stroke="#2e6f8e"/><circle r="2.35" cx="151.3" cy="269.7" fill="#1e9d89" stroke="#1e9d89"/><circle r="2.35" cx="187.7" cy="143.4" fill="#355f8d" stroke="#355f8d"/><circle r="2.35" cx="199.8" cy="140.3" fill="#3c4f8a" stroke="#3c4f8a"/><circle r="2.35" cx="159.7" cy="279.2" fill="#404688" stroke="#404688"/><circle r="2.35" cx="152.4" cy="304.4" fill="#3b528b" stroke="#3b528b"/><circle r="2.35" cx="156.0" cy="291.8" fill="#3f4788" stroke="#3f4788"/><circle r="2.35" cx="168.1" cy="288.7" fill="#472c7a" stroke="#472c7a"/><circle r="2.35" cx="200.9" cy="175.1" fill="#472e7c" stroke="#472e7c"/></g><g fill-opacity="0.45" stroke-opacity="0.45"><circle r="2.35" cx="211.8" cy="137.2" fill="#482475" stroke="#482475"/></g><g fill-opacity="0.90" stroke-opacity="0.90"><circle r="2.35" cx="160.8" cy="314.0" fill="#482576" stroke="#482576"/></g><g fill-opacity="0.45" stroke-opacity="0.45"><circle r="2.35" cx="208.2" cy="149.8" fill="#3e4989" stroke="#3e4989"/><circle r="2.35" cx="204.5" cy="162.5" fill="#443b84" stroke="#443b84"/></g><g fill-opacity="0.90" stroke-opacity="0.90"><circle r="2.35" cx="197.2" cy="187.7" fill="#38598c" stroke="#38598c"/><circle r="2.35" cx="164.4" cy="301.4" fill="#404688" stroke="#404688"/></g><g fill-opacity="0.45" stroke-opacity="0.45"><circle r="2.35" cx="194.7" cy="235.1" fill="#460b5e" stroke="#460b5e"/><circle r="2.35" cx="198.4" cy="222.5" fill="#471164" stroke="#471164"/></g><g fill-opacity="0.90" stroke-opacity="0.90"><circle r="2.35" cx="169.2" cy="323.5" fill="#470d60" stroke="#470d60"/><circle r="2.35" cx="176.5" cy="298.3" fill="#481c6e" stroke="#481c6e"/><circle r="2.35" cx="191.1" cy="247.8" fill="#450457" stroke="#450457"/><circle r="2.35" cx="187.4" cy="260.4" fill="#440154" stroke="#440154"/><circle r="2.35" cx="172.9" cy="310.9" fill="#471063" stroke="#471063"/><circle r="2.35" cx="180.1" cy="285.6" fill="#471164" stroke="#471164"/><circle r="2.35" cx="183.8" cy="273.0" fill="#482173" stroke="#482173"/><circle r="2.35" cx="135.5" cy="283.0" fill="#23888e" stroke="#23888e"/><circle r="2.35" cx="175.6" cy="144.1" fill="#297b8e" stroke="#297b8e"/><circle r="2.35" cx="139.1" cy="270.4" fill="#1f978b" stroke="#1f978b"/><circle r="2.35" cx="142.8" cy="257.8" fill="#24868e" stroke="#24868e"/><circle r="2.35" cx="151.2" cy="267.3" fill="#2e6d8e" stroke="#2e6d8e"/><circle r="2.35" cx="143.9" cy="292.6" fill="#297b8e" stroke="#297b8e"/><circle r="2.35" cx="187.7" cy="141.0" fill="#32658e" stroke="#32658e"/><circle r="2.35" cx="147.6" cy="279.9" fill="#1f958b" stroke="#1f958b"/><circle r="2.35" cx="152.3" cy="302.1" fill="#3f4889" stroke="#3f4889"/><circle r="2.35" cx="199.7" cy="137.9" fill="#424186" stroke="#424186"/><circle r="2.35" cx="156.0" cy="289.5" fill="#3e4989" stroke="#3e4989"/><circle r="2.35" cx="159.6" cy="276.9" fill="#3b528b" stroke="#3b528b"/><circle r="2.35" cx="164.4" cy="299.0" fill="#472f7d" stroke="#472f7d"/><circle r="2.35" cx="168.0" cy="286.4" fill="#481d6f" stroke="#481d6f"/><circle r="2.35" cx="208.2" cy="147.4" fill="#3e4989" stroke="#3e4989"/><circle r="2.35" cx="204.5" cy="160.1" fill="#46307e" stroke="#46307e"/><circle r="2.35" cx="160.8" cy="311.7" fill="#453581" stroke="#453581"/><circle r="2.35" cx="176.5" cy="295.9" fill="#471365" stroke="#471365"/></g><g fill-opacity="0.45" stroke-opacity="0.45"><circle r="2.35" cx="205.6" cy="194.9" fill="#450559" stroke="#450559"/></g><g fill-opacity="0.90" stroke-opacity="0.90"><circle r="2.35" cx="169.2" cy="321.2" fill="#450559" stroke="#450559"/><circle r="2.35" cx="172.8" cy="308.6" fill="#470d60" stroke="#470d60"/><circle r="2.35" cx="180.1" cy="283.3" fill="#470d60" stroke="#470d60"/><circle r="2.35" cx="183.8" cy="270.7" fill="#481b6d" stroke="#481b6d"/><circle r="2.35" cx="187.4" cy="258.0" fill="#471063" stroke="#471063"/><circle r="2.35" cx="194.7" cy="232.8" fill="#481d6f" stroke="#481d6f"/></g><g fill-opacity="0.45" stroke-opacity="0.45"><circle r="2.35" cx="202.0" cy="207.5" fill="#482071" stroke="#482071"/></g><g fill-opacity="0.90" stroke-opacity="0.90"><circle r="2.35" cx="191.1" cy="245.4" fill="#460a5d" stroke="#460a5d"/></g><g fill-opacity="0.45" stroke-opacity="0.45"><circle r="2.35" cx="198.3" cy="220.1" fill="#48186a" stroke="#48186a"/></g><g fill-opacity="0.90" stroke-opacity="0.90"><circle r="2.35" cx="135.4" cy="280.7" fill="#25858e" stroke="#25858e"/><circle r="2.35" cx="142.7" cy="255.4" fill="#23898e" stroke="#23898e"/><circle r="2.35" cx="175.6" cy="141.7" fill="#1f968b" stroke="#1f968b"/><circle r="2.35" cx="139.1" cy="268.1" fill="#297a8e" stroke="#297a8e"/><circle r="2.35" cx="187.6" cy="138.6" fill="#355f8d" stroke="#355f8d"/><circle r="2.35" cx="147.5" cy="277.6" fill="#2f6c8e" stroke="#2f6c8e"/><circle r="2.35" cx="151.2" cy="265.0" fill="#31688e" stroke="#31688e"/><circle r="2.35" cx="143.9" cy="290.2" fill="#2f6b8e" stroke="#2f6b8e"/><circle r="2.35" cx="159.6" cy="274.5" fill="#3c508b" stroke="#3c508b"/><circle r="2.35" cx="155.9" cy="287.1" fill="#3c4f8a" stroke="#3c4f8a"/><circle r="2.35" cx="152.3" cy="299.8" fill="#39568c" stroke="#39568c"/><circle r="2.35" cx="208.1" cy="145.0" fill="#472c7a" stroke="#472c7a"/><circle r="2.35" cx="168.0" cy="284.1" fill="#46327e" stroke="#46327e"/><circle r="2.35" cx="160.7" cy="309.3" fill="#46327e" stroke="#46327e"/><circle r="2.35" cx="164.4" cy="296.7" fill="#46337f" stroke="#46337f"/><circle r="2.35" cx="169.1" cy="318.9" fill="#470e61" stroke="#470e61"/><circle r="2.35" cx="172.8" cy="306.2" fill="#481668" stroke="#481668"/></g><g fill-opacity="0.45" stroke-opacity="0.45"><circle r="2.35" cx="205.6" cy="192.5" fill="#470d60" stroke="#470d60"/></g><g fill-opacity="0.90" stroke-opacity="0.90"><circle r="2.35" cx="180.1" cy="281.0" fill="#460a5d" stroke="#460a5d"/><circle r="2.35" cx="183.7" cy="268.3" fill="#450457" stroke="#450457"/><circle r="2.35" cx="198.3" cy="217.8" fill="#471164" stroke="#471164"/><circle r="2.35" cx="202.0" cy="205.1" fill="#482677" stroke="#482677"/><circle r="2.35" cx="191.0" cy="243.0" fill="#440154" stroke="#440154"/><circle r="2.35" cx="187.4" cy="255.7" fill="#470e61" stroke="#470e61"/><circle r="2.35" cx="194.7" cy="230.4" fill="#460b5e" stroke="#460b5e"/></g><g fill-opacity="0.45" stroke-opacity="0.45"><circle r="2.35" cx="209.3" cy="179.8" fill="#46075a" stroke="#46075a"/><circle r="2.35" cx="212.9" cy="167.2" fill="#460a5d" stroke="#460a5d"/></g><g fill-opacity="0.90" stroke-opacity="0.90"><circle r="2.35" cx="176.4" cy="293.6" fill="#460b5e" stroke="#460b5e"/><circle r="2.35" cx="175.5" cy="139.3" fill="#25848e" stroke="#25848e"/><circle r="2.35" cx="135.4" cy="278.4" fill="#218f8d" stroke="#218f8d"/><circle r="2.35" cx="142.7" cy="253.1" fill="#1f9f88" stroke="#1f9f88"/><circle r="2.35" cx="139.0" cy="265.7" fill="#3bbb75" stroke="#3bbb75"/><circle r="2.35" cx="147.5" cy="275.3" fill="#2f6c8e" stroke="#2f6c8e"/><circle r="2.35" cx="151.1" cy="262.6" fill="#33638d" stroke="#33638d"/><circle r="2.35" cx="143.8" cy="287.9" fill="#355e8d" stroke="#355e8d"/><circle r="2.35" cx="159.5" cy="272.2" fill="#3b528b" stroke="#3b528b"/><circle r="2.35" cx="152.2" cy="297.5" fill="#404688" stroke="#404688"/><circle r="2.35" cx="155.9" cy="284.8" fill="#423f85" stroke="#423f85"/><circle r="2.35" cx="196.1" cy="145.7" fill="#414487" stroke="#414487"/><circle r="2.35" cx="160.7" cy="307.0" fill="#453581" stroke="#453581"/><circle r="2.35" cx="164.3" cy="294.4" fill="#463480" stroke="#463480"/><circle r="2.35" cx="208.1" cy="142.6" fill="#481b6d" stroke="#481b6d"/><circle r="2.35" cx="168.0" cy="281.7" fill="#46337f" stroke="#46337f"/></g><g fill-opacity="0.45" stroke-opacity="0.45"><circle r="2.35" cx="212.9" cy="164.8" fill="#471164" stroke="#471164"/><circle r="2.35" cx="216.6" cy="152.1" fill="#440154" stroke="#440154"/><circle r="2.35" cx="220.2" cy="139.5" fill="#470e61" stroke="#470e61"/></g><g fill-opacity="0.90" stroke-opacity="0.90"><circle r="2.35" cx="209.3" cy="177.4" fill="#481c6e" stroke="#481c6e"/><circle r="2.35" cx="194.7" cy="228.0" fill="#481467" stroke="#481467"/><circle r="2.35" cx="187.4" cy="253.3" fill="#450559" stroke="#450559"/><circle r="2.35" cx="191.0" cy="240.7" fill="#48186a" stroke="#48186a"/><circle r="2.35" cx="183.7" cy="266.0" fill="#450457" stroke="#450457"/><circle r="2.35" cx="176.4" cy="291.3" fill="#481769" stroke="#481769"/><circle r="2.35" cx="180.1" cy="278.6" fill="#471063" stroke="#471063"/><circle r="2.35" cx="172.8" cy="303.9" fill="#46085c" stroke="#46085c"/><circle r="2.35" cx="169.1" cy="316.6" fill="#481467" stroke="#481467"/><circle r="2.35" cx="202.0" cy="202.7" fill="#481467" stroke="#481467"/><circle r="2.35" cx="198.3" cy="215.4" fill="#481668" stroke="#481668"/><circle r="2.35" cx="205.6" cy="190.1" fill="#450457" stroke="#450457"/></g><g fill-opacity="0.95" stroke-opacity="0.95"><circle r="2.35" cx="139.0" cy="263.4" fill="#228d8d" stroke="#228d8d"/><circle r="2.35" cx="142.6" cy="250.7" fill="#228d8d" stroke="#228d8d"/><circle r="2.35" cx="135.3" cy="276.0" fill="#25858e" stroke="#25858e"/><circle r="2.35" cx="143.8" cy="285.6" fill="#2d708e" stroke="#2d708e"/><circle r="2.35" cx="147.4" cy="272.9" fill="#2e6e8e" stroke="#2e6e8e"/><circle r="2.35" cx="183.9" cy="146.4" fill="#31668e" stroke="#31668e"/><circle r="2.35" cx="151.1" cy="260.3" fill="#2e6e8e" stroke="#2e6e8e"/><circle r="2.35" cx="155.9" cy="282.5" fill="#2f6b8e" stroke="#2f6b8e"/><circle r="2.35" cx="196.0" cy="143.3" fill="#453781" stroke="#453781"/><circle r="2.35" cx="152.2" cy="295.1" fill="#306a8e" stroke="#306a8e"/><circle r="2.35" cx="159.5" cy="269.8" fill="#3c508b" stroke="#3c508b"/><circle r="2.35" cx="164.3" cy="292.0" fill="#472e7c" stroke="#472e7c"/><circle r="2.35" cx="167.9" cy="279.4" fill="#482979" stroke="#482979"/><circle r="2.35" cx="160.6" cy="304.7" fill="#472f7d" stroke="#472f7d"/><circle r="2.35" cx="208.1" cy="140.2" fill="#472c7a" stroke="#472c7a"/><circle r="2.35" cx="172.7" cy="301.6" fill="#481f70" stroke="#481f70"/><circle r="2.35" cx="169.1" cy="314.2" fill="#481769" stroke="#481769"/><circle r="2.35" cx="191.0" cy="238.3" fill="#470d60" stroke="#470d60"/><circle r="2.35" cx="180.0" cy="276.3" fill="#48186a" stroke="#48186a"/><circle r="2.35" cx="183.7" cy="263.6" fill="#470e61" stroke="#470e61"/><circle r="2.35" cx="187.3" cy="251.0" fill="#470d60" stroke="#470d60"/><circle r="2.35" cx="205.6" cy="187.7" fill="#440154" stroke="#440154"/><circle r="2.35" cx="201.9" cy="200.3" fill="#481b6d" stroke="#481b6d"/><circle r="2.35" cx="198.3" cy="213.0" fill="#481467" stroke="#481467"/><circle r="2.35" cx="176.4" cy="288.9" fill="#481668" stroke="#481668"/><circle r="2.35" cx="194.6" cy="225.6" fill="#46075a" stroke="#46075a"/><circle r="2.35" cx="209.2" cy="175.0" fill="#460b5e" stroke="#460b5e"/><circle r="2.35" cx="212.9" cy="162.4" fill="#460b5e" stroke="#460b5e"/><circle r="2.35" cx="216.6" cy="149.7" fill="#460b5e" stroke="#460b5e"/><circle r="2.35" cx="138.9" cy="261.0" fill="#23888e" stroke="#23888e"/><circle r="2.35" cx="135.3" cy="273.7" fill="#1f9e89" stroke="#1f9e89"/><circle r="2.35" cx="171.8" cy="147.1" fill="#25838e" stroke="#25838e"/><circle r="2.35" cx="142.6" cy="248.3" fill="#25838e" stroke="#25838e"/><circle r="2.35" cx="151.0" cy="257.9" fill="#2f6b8e" stroke="#2f6b8e"/><circle r="2.35" cx="147.4" cy="270.6" fill="#2b758e" stroke="#2b758e"/><circle r="2.35" cx="183.9" cy="144.0" fill="#25838e" stroke="#25838e"/><circle r="2.35" cx="143.7" cy="283.2" fill="#2c728e" stroke="#2c728e"/><circle r="2.35" cx="196.0" cy="140.8" fill="#3f4788" stroke="#3f4788"/><circle r="2.35" cx="159.5" cy="267.5" fill="#433d84" stroke="#433d84"/><circle r="2.35" cx="152.2" cy="292.8" fill="#3c508b" stroke="#3c508b"/><circle r="2.35" cx="155.8" cy="280.1" fill="#39558c" stroke="#39558c"/><circle r="2.35" cx="160.6" cy="302.3" fill="#39558c" stroke="#39558c"/><circle r="2.35" cx="164.2" cy="289.7" fill="#453781" stroke="#453781"/><circle r="2.35" cx="167.9" cy="277.0" fill="#472f7d" stroke="#472f7d"/><circle r="2.35" cx="169.0" cy="311.9" fill="#481d6f" stroke="#481d6f"/><circle r="2.35" cx="187.3" cy="248.6" fill="#48186a" stroke="#48186a"/><circle r="2.35" cx="183.6" cy="261.3" fill="#470e61" stroke="#470e61"/><circle r="2.35" cx="172.7" cy="299.2" fill="#463480" stroke="#463480"/><circle r="2.35" cx="209.2" cy="172.6" fill="#450559" stroke="#450559"/><circle r="2.35" cx="212.9" cy="160.0" fill="#440256" stroke="#440256"/><circle r="2.35" cx="216.5" cy="147.3" fill="#460b5e" stroke="#460b5e"/><circle r="2.35" cx="191.0" cy="235.9" fill="#481c6e" stroke="#481c6e"/><circle r="2.35" cx="194.6" cy="223.3" fill="#48186a" stroke="#48186a"/><circle r="2.35" cx="201.9" cy="197.9" fill="#460a5d" stroke="#460a5d"/><circle r="2.35" cx="205.6" cy="185.3" fill="#460b5e" stroke="#460b5e"/><circle r="2.35" cx="180.0" cy="273.9" fill="#46075a" stroke="#46075a"/><circle r="2.35" cx="176.3" cy="286.6" fill="#470d60" stroke="#470d60"/><circle r="2.35" cx="198.3" cy="210.6" fill="#472d7b" stroke="#472d7b"/><circle r="2.35" cx="138.9" cy="258.6" fill="#2a788e" stroke="#2a788e"/><circle r="2.35" cx="171.8" cy="144.6" fill="#277e8e" stroke="#277e8e"/><circle r="2.35" cx="142.5" cy="246.0" fill="#238a8d" stroke="#238a8d"/><circle r="2.35" cx="135.2" cy="271.3" fill="#297a8e" stroke="#297a8e"/><circle r="2.35" cx="147.3" cy="268.2" fill="#27808e" stroke="#27808e"/><circle r="2.35" cx="143.7" cy="280.9" fill="#1f9e89" stroke="#1f9e89"/><circle r="2.35" cx="151.0" cy="255.5" fill="#2d718e" stroke="#2d718e"/><circle r="2.35" cx="183.9" cy="141.5" fill="#3d4d8a" stroke="#3d4d8a"/><circle r="2.35" cx="152.1" cy="290.4" fill="#3c508b" stroke="#3c508b"/><circle r="2.35" cx="155.8" cy="277.8" fill="#3a548c" stroke="#3a548c"/><circle r="2.35" cx="159.4" cy="265.1" fill="#3f4889" stroke="#3f4889"/><circle r="2.35" cx="164.2" cy="287.3" fill="#453581" stroke="#453581"/><circle r="2.35" cx="160.5" cy="300.0" fill="#481d6f" stroke="#481d6f"/><circle r="2.35" cx="167.9" cy="274.7" fill="#375b8d" stroke="#375b8d"/><circle r="2.35" cx="204.4" cy="148.0" fill="#470e61" stroke="#470e61"/><circle r="2.35" cx="172.6" cy="296.9" fill="#482576" stroke="#482576"/><circle r="2.35" cx="169.0" cy="309.6" fill="#481467" stroke="#481467"/><circle r="2.35" cx="176.3" cy="284.2" fill="#460b5e" stroke="#460b5e"/><circle r="2.35" cx="209.2" cy="170.2" fill="#46075a" stroke="#46075a"/><circle r="2.35" cx="190.9" cy="233.6" fill="#46075a" stroke="#46075a"/><circle r="2.35" cx="194.6" cy="220.9" fill="#470e61" stroke="#470e61"/><circle r="2.35" cx="212.9" cy="157.5" fill="#46075a" stroke="#46075a"/><circle r="2.35" cx="216.5" cy="144.9" fill="#440154" stroke="#440154"/><circle r="2.35" cx="205.6" cy="182.9" fill="#471365" stroke="#471365"/><circle r="2.35" cx="198.3" cy="208.2" fill="#450457" stroke="#450457"/><circle r="2.35" cx="201.9" cy="195.5" fill="#481c6e" stroke="#481c6e"/><circle r="2.35" cx="180.0" cy="271.6" fill="#460a5d" stroke="#460a5d"/><circle r="2.35" cx="183.6" cy="258.9" fill="#471164" stroke="#471164"/><circle r="2.35" cx="187.3" cy="246.2" fill="#460a5d" stroke="#460a5d"/><circle r="2.35" cx="171.8" cy="142.2" fill="#25838e" stroke="#25838e"/><circle r="2.35" cx="135.2" cy="269.0" fill="#20928c" stroke="#20928c"/><circle r="2.35" cx="142.5" cy="243.6" fill="#287c8e" stroke="#287c8e"/><circle r="2.35" cx="138.8" cy="256.3" fill="#3fbc73" stroke="#3fbc73"/><circle r="2.35" cx="143.6" cy="278.5" fill="#31688e" stroke="#31688e"/><circle r="2.35" cx="150.9" cy="253.2" fill="#2d708e" stroke="#2d708e"/><circle r="2.35" cx="147.3" cy="265.8" fill="#31668e" stroke="#31668e"/><circle r="2.35" cx="159.4" cy="262.7" fill="#3d4d8a" stroke="#3d4d8a"/><circle r="2.35" cx="192.3" cy="148.7" fill="#443a83" stroke="#443a83"/><circle r="2.35" cx="155.7" cy="275.4" fill="#375a8c" stroke="#375a8c"/><circle r="2.35" cx="152.1" cy="288.1" fill="#3a538b" stroke="#3a538b"/><circle r="2.35" cx="167.8" cy="272.3" fill="#3c508b" stroke="#3c508b"/><circle r="2.35" cx="160.5" cy="297.7" fill="#463480" stroke="#463480"/><circle r="2.35" cx="164.2" cy="285.0" fill="#3a538b" stroke="#3a538b"/><circle r="2.35" cx="204.4" cy="145.6" fill="#472c7a" stroke="#472c7a"/><circle r="2.35" cx="190.9" cy="231.2" fill="#471063" stroke="#471063"/><circle r="2.35" cx="198.2" cy="205.8" fill="#471063" stroke="#471063"/><circle r="2.35" cx="212.9" cy="155.1" fill="#450559" stroke="#450559"/><circle r="2.35" cx="216.5" cy="142.4" fill="#440256" stroke="#440256"/><circle r="2.35" cx="183.6" cy="256.5" fill="#482374" stroke="#482374"/><circle r="2.35" cx="187.3" cy="243.9" fill="#481769" stroke="#481769"/><circle r="2.35" cx="209.2" cy="167.8" fill="#46075a" stroke="#46075a"/><circle r="2.35" cx="179.9" cy="269.2" fill="#481467" stroke="#481467"/><circle r="2.35" cx="172.6" cy="294.6" fill="#470e61" stroke="#470e61"/><circle r="2.35" cx="169.0" cy="307.2" fill="#482475" stroke="#482475"/><circle r="2.35" cx="176.3" cy="281.9" fill="#471063" stroke="#471063"/><circle r="2.35" cx="194.6" cy="218.5" fill="#481668" stroke="#481668"/><circle r="2.35" cx="201.9" cy="193.1" fill="#471063" stroke="#471063"/><circle r="2.35" cx="205.6" cy="180.5" fill="#481f70" stroke="#481f70"/><circle r="2.35" cx="135.1" cy="266.6" fill="#1e9c89" stroke="#1e9c89"/><circle r="2.35" cx="142.4" cy="241.2" fill="#287c8e" stroke="#287c8e"/><circle r="2.35" cx="138.8" cy="253.9" fill="#21908d" stroke="#21908d"/><circle r="2.35" cx="143.6" cy="276.2" fill="#34608d" stroke="#34608d"/><circle r="2.35" cx="147.2" cy="263.5" fill="#25ab82" stroke="#25ab82"/><circle r="2.35" cx="180.2" cy="149.3" fill="#32648e" stroke="#32648e"/><circle r="2.35" cx="150.9" cy="250.8" fill="#24878e" stroke="#24878e"/><circle r="2.35" cx="155.7" cy="273.1" fill="#3e4a89" stroke="#3e4a89"/><circle r="2.35" cx="152.0" cy="285.7" fill="#38598c" stroke="#38598c"/><circle r="2.35" cx="192.3" cy="146.2" fill="#3e4989" stroke="#3e4989"/><circle r="2.35" cx="159.3" cy="260.4" fill="#3f4788" stroke="#3f4788"/><circle r="2.35" cx="167.8" cy="270.0" fill="#375b8d" stroke="#375b8d"/><circle r="2.35" cx="164.1" cy="282.6" fill="#482576" stroke="#482576"/><circle r="2.35" cx="204.4" cy="143.1" fill="#46327e" stroke="#46327e"/><circle r="2.35" cx="160.5" cy="295.3" fill="#46337f" stroke="#46337f"/><circle r="2.35" cx="209.2" cy="165.4" fill="#470d60" stroke="#470d60"/><circle r="2.35" cx="201.9" cy="190.7" fill="#472a7a" stroke="#472a7a"/><circle r="2.35" cx="198.2" cy="203.4" fill="#450559" stroke="#450559"/><circle r="2.35" cx="194.6" cy="216.1" fill="#482576" stroke="#482576"/><circle r="2.35" cx="205.5" cy="178.1" fill="#481769" stroke="#481769"/><circle r="2.35" cx="168.9" cy="304.9" fill="#46085c" stroke="#46085c"/><circle r="2.35" cx="179.9" cy="266.9" fill="#481d6f" stroke="#481d6f"/><circle r="2.35" cx="187.2" cy="241.5" fill="#48186a" stroke="#48186a"/><circle r="2.35" cx="183.6" cy="254.2" fill="#471365" stroke="#471365"/><circle r="2.35" cx="190.9" cy="228.8" fill="#471164" stroke="#471164"/><circle r="2.35" cx="176.2" cy="279.5" fill="#470e61" stroke="#470e61"/><circle r="2.35" cx="172.6" cy="292.2" fill="#481769" stroke="#481769"/><circle r="2.35" cx="212.9" cy="152.7" fill="#471164" stroke="#471164"/><circle r="2.35" cx="168.0" cy="150.0" fill="#26828e" stroke="#26828e"/><circle r="2.35" cx="138.7" cy="251.5" fill="#25858e" stroke="#25858e"/><circle r="2.35" cx="142.4" cy="238.9" fill="#2d708e" stroke="#2d708e"/><circle r="2.35" cx="135.1" cy="264.2" fill="#21a585" stroke="#21a585"/><circle r="2.35" cx="143.5" cy="273.8" fill="#25858e" stroke="#25858e"/><circle r="2.35" cx="147.2" cy="261.1" fill="#2e6f8e" stroke="#2e6f8e"/><circle r="2.35" cx="180.1" cy="146.9" fill="#2b748e" stroke="#2b748e"/><circle r="2.35" cx="150.8" cy="248.4" fill="#31678e" stroke="#31678e"/><circle r="2.35" cx="192.3" cy="143.8" fill="#2f6b8e" stroke="#2f6b8e"/><circle r="2.35" cx="152.0" cy="283.4" fill="#3b528b" stroke="#3b528b"/><circle r="2.35" cx="159.3" cy="258.0" fill="#3b528b" stroke="#3b528b"/><circle r="2.35" cx="155.6" cy="270.7" fill="#3c4f8a" stroke="#3c4f8a"/><circle r="2.35" cx="160.4" cy="293.0" fill="#433e85" stroke="#433e85"/><circle r="2.35" cx="167.8" cy="267.6" fill="#472a7a" stroke="#472a7a"/><circle r="2.35" cx="164.1" cy="280.3" fill="#453882" stroke="#453882"/><circle r="2.35" cx="176.2" cy="277.2" fill="#481f70" stroke="#481f70"/><circle r="2.35" cx="183.5" cy="251.8" fill="#481769" stroke="#481769"/><circle r="2.35" cx="201.9" cy="188.3" fill="#481b6d" stroke="#481b6d"/><circle r="2.35" cx="190.9" cy="226.4" fill="#482173" stroke="#482173"/><circle r="2.35" cx="209.2" cy="163.0" fill="#481b6d" stroke="#481b6d"/><circle r="2.35" cx="212.8" cy="150.3" fill="#46085c" stroke="#46085c"/><circle r="2.35" cx="179.9" cy="264.5" fill="#470e61" stroke="#470e61"/><circle r="2.35" cx="194.5" cy="213.7" fill="#481c6e" stroke="#481c6e"/><circle r="2.35" cx="172.5" cy="289.9" fill="#472a7a" stroke="#472a7a"/><circle r="2.35" cx="168.9" cy="302.6" fill="#48186a" stroke="#48186a"/><circle r="2.35" cx="187.2" cy="239.1" fill="#46085c" stroke="#46085c"/><circle r="2.35" cx="205.5" cy="175.7" fill="#471164" stroke="#471164"/><circle r="2.35" cx="198.2" cy="201.0" fill="#48186a" stroke="#48186a"/><circle r="2.35" cx="142.3" cy="236.5" fill="#218e8d" stroke="#218e8d"/><circle r="2.35" cx="135.0" cy="261.9" fill="#3fbc73" stroke="#3fbc73"/><circle r="2.35" cx="168.0" cy="147.6" fill="#1e9b8a" stroke="#1e9b8a"/><circle r="2.35" cx="138.7" cy="249.2" fill="#24878e" stroke="#24878e"/><circle r="2.35" cx="147.1" cy="258.8" fill="#2f6c8e" stroke="#2f6c8e"/><circle r="2.35" cx="143.5" cy="271.5" fill="#31678e" stroke="#31678e"/><circle r="2.35" cx="150.8" cy="246.1" fill="#2c728e" stroke="#2c728e"/><circle r="2.35" cx="180.1" cy="144.5" fill="#27808e" stroke="#27808e"/><circle r="2.35" cx="155.6" cy="268.3" fill="#2d708e" stroke="#2d708e"/><circle r="2.35" cx="159.3" cy="255.6" fill="#39558c" stroke="#39558c"/><circle r="2.35" cx="151.9" cy="281.0" fill="#2c738e" stroke="#2c738e"/><circle r="2.35" cx="200.7" cy="151.0" fill="#472a7a" stroke="#472a7a"/><circle r="2.35" cx="164.0" cy="277.9" fill="#424186" stroke="#424186"/><circle r="2.35" cx="167.7" cy="265.2" fill="#482576" stroke="#482576"/><circle r="2.35" cx="160.4" cy="290.6" fill="#443b84" stroke="#443b84"/><circle r="2.35" cx="194.5" cy="211.3" fill="#471164" stroke="#471164"/><circle r="2.35" cx="209.2" cy="160.5" fill="#440154" stroke="#440154"/><circle r="2.35" cx="205.5" cy="173.2" fill="#460a5d" stroke="#460a5d"/><circle r="2.35" cx="201.8" cy="185.9" fill="#450559" stroke="#450559"/><circle r="2.35" cx="168.8" cy="300.2" fill="#481467" stroke="#481467"/><circle r="2.35" cx="183.5" cy="249.4" fill="#48186a" stroke="#48186a"/><circle r="2.35" cx="176.2" cy="274.8" fill="#481b6d" stroke="#481b6d"/><circle r="2.35" cx="179.8" cy="262.1" fill="#482374" stroke="#482374"/><circle r="2.35" cx="172.5" cy="287.5" fill="#481467" stroke="#481467"/><circle r="2.35" cx="212.8" cy="147.8" fill="#460a5d" stroke="#460a5d"/><circle r="2.35" cx="187.2" cy="236.7" fill="#471164" stroke="#471164"/><circle r="2.35" cx="198.2" cy="198.6" fill="#471164" stroke="#471164"/><circle r="2.35" cx="190.8" cy="224.0" fill="#46085c" stroke="#46085c"/><circle r="2.35" cx="168.0" cy="145.2" fill="#1f968b" stroke="#1f968b"/><circle r="2.35" cx="134.9" cy="259.5" fill="#4ac16d" stroke="#4ac16d"/><circle r="2.35" cx="142.3" cy="234.1" fill="#24868e" stroke="#24868e"/><circle r="2.35" cx="138.6" cy="246.8" fill="#21918c" stroke="#21918c"/><circle r="2.35" cx="147.1" cy="256.4" fill="#2f6c8e" stroke="#2f6c8e"/><circle r="2.35" cx="150.7" cy="243.7" fill="#2c738e" stroke="#2c738e"/><circle r="2.35" cx="143.4" cy="269.1" fill="#2e6e8e" stroke="#2e6e8e"/><circle r="2.35" cx="159.2" cy="253.3" fill="#3a548c" stroke="#3a548c"/><circle r="2.35" cx="155.5" cy="266.0" fill="#355e8d" stroke="#355e8d"/><circle r="2.35" cx="188.6" cy="151.6" fill="#3c4f8a" stroke="#3c4f8a"/><circle r="2.35" cx="151.9" cy="278.7" fill="#3c4f8a" stroke="#3c4f8a"/><circle r="2.35" cx="200.7" cy="148.5" fill="#482677" stroke="#482677"/><circle r="2.35" cx="167.7" cy="262.9" fill="#46307e" stroke="#46307e"/><circle r="2.35" cx="164.0" cy="275.6" fill="#404588" stroke="#404588"/><circle r="2.35" cx="160.3" cy="288.3" fill="#38598c" stroke="#38598c"/><circle r="2.35" cx="176.1" cy="272.5" fill="#481467" stroke="#481467"/><circle r="2.35" cx="168.8" cy="297.9" fill="#481668" stroke="#481668"/><circle r="2.35" cx="183.5" cy="247.1" fill="#440154" stroke="#440154"/><circle r="2.35" cx="172.5" cy="285.2" fill="#481a6c" stroke="#481a6c"/><circle r="2.35" cx="190.8" cy="221.6" fill="#482374" stroke="#482374"/><circle r="2.35" cx="187.1" cy="234.3" fill="#48186a" stroke="#48186a"/><circle r="2.35" cx="212.8" cy="145.4" fill="#482374" stroke="#482374"/><circle r="2.35" cx="179.8" cy="259.8" fill="#481c6e" stroke="#481c6e"/><circle r="2.35" cx="198.2" cy="196.2" fill="#471164" stroke="#471164"/><circle r="2.35" cx="194.5" cy="208.9" fill="#481b6d" stroke="#481b6d"/><circle r="2.35" cx="201.8" cy="183.5" fill="#471365" stroke="#471365"/><circle r="2.35" cx="205.5" cy="170.8" fill="#481b6d" stroke="#481b6d"/><circle r="2.35" cx="209.2" cy="158.1" fill="#481668" stroke="#481668"/><circle r="2.35" cx="142.2" cy="231.7" fill="#1e9d89" stroke="#1e9d89"/><circle r="2.35" cx="134.9" cy="257.1" fill="#218e8d" stroke="#218e8d"/><circle r="2.35" cx="138.6" cy="244.4" fill="#26818e" stroke="#26818e"/><circle r="2.35" cx="176.4" cy="152.3" fill="#375a8c" stroke="#375a8c"/><circle r="2.35" cx="143.4" cy="266.7" fill="#2b748e" stroke="#2b748e"/><circle r="2.35" cx="150.7" cy="241.3" fill="#287c8e" stroke="#287c8e"/><circle r="2.35" cx="147.0" cy="254.0" fill="#2a788e" stroke="#2a788e"/><circle r="2.35" cx="155.5" cy="263.6" fill="#39568c" stroke="#39568c"/><circle r="2.35" cx="159.2" cy="250.9" fill="#3c4f8a" stroke="#3c4f8a"/><circle r="2.35" cx="151.8" cy="276.3" fill="#3f4788" stroke="#3f4788"/><circle r="2.35" cx="188.5" cy="149.2" fill="#2f6c8e" stroke="#2f6c8e"/><circle r="2.35" cx="160.3" cy="285.9" fill="#453581" stroke="#453581"/><circle r="2.35" cx="167.6" cy="260.5" fill="#423f85" stroke="#423f85"/><circle r="2.35" cx="164.0" cy="273.2" fill="#365d8d" stroke="#365d8d"/><circle r="2.35" cx="200.7" cy="146.1" fill="#482677" stroke="#482677"/><circle r="2.35" cx="205.5" cy="168.4" fill="#470d60" stroke="#470d60"/><circle r="2.35" cx="201.8" cy="181.1" fill="#470d60" stroke="#470d60"/><circle r="2.35" cx="198.1" cy="193.8" fill="#481a6c" stroke="#481a6c"/><circle r="2.35" cx="209.1" cy="155.7" fill="#440154" stroke="#440154"/><circle r="2.35" cx="187.1" cy="232.0" fill="#482475" stroke="#482475"/><circle r="2.35" cx="194.5" cy="206.5" fill="#482576" stroke="#482576"/><circle r="2.35" cx="190.8" cy="219.3" fill="#482475" stroke="#482475"/><circle r="2.35" cx="168.8" cy="295.5" fill="#471365" stroke="#471365"/><circle r="2.35" cx="172.4" cy="282.8" fill="#481769" stroke="#481769"/><circle r="2.35" cx="176.1" cy="270.1" fill="#481f70" stroke="#481f70"/><circle r="2.35" cx="179.8" cy="257.4" fill="#481c6e" stroke="#481c6e"/><circle r="2.35" cx="183.5" cy="244.7" fill="#470e61" stroke="#470e61"/><circle r="2.35" cx="164.2" cy="153.0" fill="#1e9d89" stroke="#1e9d89"/><circle r="2.35" cx="134.8" cy="254.8" fill="#2e6f8e" stroke="#2e6f8e"/><circle r="2.35" cx="142.2" cy="229.3" fill="#228d8d" stroke="#228d8d"/><circle r="2.35" cx="138.5" cy="242.0" fill="#218f8d" stroke="#218f8d"/><circle r="2.35" cx="143.3" cy="264.4" fill="#2e6f8e" stroke="#2e6f8e"/><circle r="2.35" cx="150.7" cy="238.9" fill="#1f9f88" stroke="#1f9f88"/><circle r="2.35" cx="147.0" cy="251.6" fill="#375a8c" stroke="#375a8c"/><circle r="2.35" cx="176.4" cy="149.9" fill="#26818e" stroke="#26818e"/><circle r="2.35" cx="159.1" cy="248.5" fill="#375a8c" stroke="#375a8c"/><circle r="2.35" cx="155.5" cy="261.3" fill="#3d4e8a" stroke="#3d4e8a"/><circle r="2.35" cx="151.8" cy="274.0" fill="#39568c" stroke="#39568c"/><circle r="2.35" cx="188.5" cy="146.8" fill="#2f6b8e" stroke="#2f6b8e"/><circle r="2.35" cx="167.6" cy="258.1" fill="#443a83" stroke="#443a83"/><circle r="2.35" cx="163.9" cy="270.9" fill="#443a83" stroke="#443a83"/><circle r="2.35" cx="160.3" cy="283.6" fill="#424086" stroke="#424086"/><circle r="2.35" cx="183.4" cy="242.3" fill="#48186a" stroke="#48186a"/><circle r="2.35" cx="179.8" cy="255.0" fill="#471365" stroke="#471365"/><circle r="2.35" cx="209.1" cy="153.3" fill="#481b6d" stroke="#481b6d"/><circle r="2.35" cx="194.4" cy="204.1" fill="#481f70" stroke="#481f70"/><circle r="2.35" cx="176.1" cy="267.7" fill="#472c7a" stroke="#472c7a"/><circle r="2.35" cx="168.7" cy="293.2" fill="#460b5e" stroke="#460b5e"/><circle r="2.35" cx="172.4" cy="280.5" fill="#470e61" stroke="#470e61"/><circle r="2.35" cx="187.1" cy="229.6" fill="#481d6f" stroke="#481d6f"/><circle r="2.35" cx="190.8" cy="216.9" fill="#481a6c" stroke="#481a6c"/><circle r="2.35" cx="205.5" cy="166.0" fill="#481b6d" stroke="#481b6d"/><circle r="2.35" cx="201.8" cy="178.7" fill="#440154" stroke="#440154"/><circle r="2.35" cx="198.1" cy="191.4" fill="#460a5d" stroke="#460a5d"/><circle r="2.35" cx="134.8" cy="252.4" fill="#277e8e" stroke="#277e8e"/><circle r="2.35" cx="164.2" cy="150.6" fill="#1f9a8a" stroke="#1f9a8a"/><circle r="2.35" cx="138.5" cy="239.7" fill="#21918c" stroke="#21918c"/><circle r="2.35" cx="142.1" cy="226.9" fill="#297a8e" stroke="#297a8e"/><circle r="2.35" cx="176.3" cy="147.5" fill="#2d708e" stroke="#2d708e"/><circle r="2.35" cx="150.6" cy="236.5" fill="#2d718e" stroke="#2d718e"/><circle r="2.35" cx="143.3" cy="262.0" fill="#2a778e" stroke="#2a778e"/><circle r="2.35" cx="146.9" cy="249.3" fill="#365c8d" stroke="#365c8d"/><circle r="2.35" cx="159.1" cy="246.2" fill="#2c738e" stroke="#2c738e"/><circle r="2.35" cx="155.4" cy="258.9" fill="#38598c" stroke="#38598c"/><circle r="2.35" cx="151.7" cy="271.6" fill="#365c8d" stroke="#365c8d"/><circle r="2.35" cx="197.0" cy="153.9" fill="#472d7b" stroke="#472d7b"/><circle r="2.35" cx="167.6" cy="255.8" fill="#463480" stroke="#463480"/><circle r="2.35" cx="160.2" cy="281.2" fill="#433d84" stroke="#433d84"/><circle r="2.35" cx="163.9" cy="268.5" fill="#375b8d" stroke="#375b8d"/><circle r="2.35" cx="183.4" cy="239.9" fill="#471164" stroke="#471164"/><circle r="2.35" cx="168.7" cy="290.8" fill="#481a6c" stroke="#481a6c"/><circle r="2.35" cx="172.4" cy="278.1" fill="#481d6f" stroke="#481d6f"/><circle r="2.35" cx="179.7" cy="252.6" fill="#481769" stroke="#481769"/><circle r="2.35" cx="187.1" cy="227.2" fill="#470d60" stroke="#470d60"/><circle r="2.35" cx="198.1" cy="189.0" fill="#481f70" stroke="#481f70"/><circle r="2.35" cx="194.4" cy="201.7" fill="#482979" stroke="#482979"/><circle r="2.35" cx="205.4" cy="163.6" fill="#481b6d" stroke="#481b6d"/><circle r="2.35" cx="201.8" cy="176.3" fill="#471063" stroke="#471063"/><circle r="2.35" cx="176.0" cy="265.4" fill="#471365" stroke="#471365"/><circle r="2.35" cx="209.1" cy="150.8" fill="#482173" stroke="#482173"/><circle r="2.35" cx="190.7" cy="214.5" fill="#460b5e" stroke="#460b5e"/><circle r="2.35" cx="164.1" cy="148.2" fill="#228c8d" stroke="#228c8d"/><circle r="2.35" cx="138.4" cy="237.3" fill="#3bbb75" stroke="#3bbb75"/><circle r="2.35" cx="142.1" cy="224.5" fill="#1e9d89" stroke="#1e9d89"/><circle r="2.35" cx="134.7" cy="250.0" fill="#2d718e" stroke="#2d718e"/><circle r="2.35" cx="146.9" cy="246.9" fill="#2d708e" stroke="#2d708e"/><circle r="2.35" cx="143.2" cy="259.6" fill="#297a8e" stroke="#297a8e"/><circle r="2.35" cx="150.6" cy="234.2" fill="#2d718e" stroke="#2d718e"/><circle r="2.35" cx="184.8" cy="154.6" fill="#433d84" stroke="#433d84"/><circle r="2.35" cx="155.4" cy="256.5" fill="#355e8d" stroke="#355e8d"/><circle r="2.35" cx="151.7" cy="269.2" fill="#38598c" stroke="#38598c"/><circle r="2.35" cx="159.0" cy="243.8" fill="#3b528b" stroke="#3b528b"/><circle r="2.35" cx="167.5" cy="253.4" fill="#453882" stroke="#453882"/><circle r="2.35" cx="160.2" cy="278.9" fill="#453581" stroke="#453581"/><circle r="2.35" cx="196.9" cy="151.5" fill="#472f7d" stroke="#472f7d"/><circle r="2.35" cx="163.9" cy="266.1" fill="#472e7c" stroke="#472e7c"/><circle r="2.35" cx="209.1" cy="148.4" fill="#440256" stroke="#440256"/><circle r="2.35" cx="179.7" cy="250.3" fill="#481f70" stroke="#481f70"/><circle r="2.35" cx="183.4" cy="237.5" fill="#481a6c" stroke="#481a6c"/><circle r="2.35" cx="168.7" cy="288.5" fill="#482475" stroke="#482475"/><circle r="2.35" cx="172.3" cy="275.7" fill="#481467" stroke="#481467"/><circle r="2.35" cx="176.0" cy="263.0" fill="#46307e" stroke="#46307e"/><circle r="2.35" cx="190.7" cy="212.1" fill="#481769" stroke="#481769"/><circle r="2.35" cx="187.0" cy="224.8" fill="#48186a" stroke="#48186a"/><circle r="2.35" cx="194.4" cy="199.3" fill="#481a6c" stroke="#481a6c"/><circle r="2.35" cx="201.8" cy="173.9" fill="#471365" stroke="#471365"/><circle r="2.35" cx="198.1" cy="186.6" fill="#482173" stroke="#482173"/><circle r="2.35" cx="205.4" cy="161.1" fill="#450457" stroke="#450457"/><circle r="2.35" cx="134.7" cy="247.6" fill="#23898e" stroke="#23898e"/><circle r="2.35" cx="138.3" cy="234.9" fill="#1f998a" stroke="#1f998a"/><circle r="2.35" cx="142.0" cy="222.2" fill="#228c8d" stroke="#228c8d"/><circle r="2.35" cx="172.6" cy="155.3" fill="#2f6c8e" stroke="#2f6c8e"/><circle r="2.35" cx="150.5" cy="231.8" fill="#38588c" stroke="#38588c"/><circle r="2.35" cx="143.2" cy="257.3" fill="#2a768e" stroke="#2a768e"/><circle r="2.35" cx="146.8" cy="244.5" fill="#2a788e" stroke="#2a788e"/><circle r="2.35" cx="159.0" cy="241.4" fill="#3a548c" stroke="#3a548c"/><circle r="2.35" cx="184.7" cy="152.2" fill="#453882" stroke="#453882"/><circle r="2.35" cx="151.6" cy="266.9" fill="#375a8c" stroke="#375a8c"/><circle r="2.35" cx="155.3" cy="254.1" fill="#365c8d" stroke="#365c8d"/><circle r="2.35" cx="160.1" cy="276.5" fill="#433e85" stroke="#433e85"/><circle r="2.35" cx="163.8" cy="263.8" fill="#404688" stroke="#404688"/><circle r="2.35" cx="167.5" cy="251.0" fill="#443a83" stroke="#443a83"/><circle r="2.35" cx="196.9" cy="149.1" fill="#482576" stroke="#482576"/><circle r="2.35" cx="205.4" cy="158.7" fill="#460a5d" stroke="#460a5d"/><circle r="2.35" cx="172.3" cy="273.4" fill="#481c6e" stroke="#481c6e"/><circle r="2.35" cx="179.7" cy="247.9" fill="#481769" stroke="#481769"/><circle r="2.35" cx="183.3" cy="235.1" fill="#470e61" stroke="#470e61"/><circle r="2.35" cx="190.7" cy="209.7" fill="#460a5d" stroke="#460a5d"/><circle r="2.35" cx="187.0" cy="222.4" fill="#46327e" stroke="#46327e"/><circle r="2.35" cx="194.4" cy="196.9" fill="#481467" stroke="#481467"/><circle r="2.35" cx="176.0" cy="260.6" fill="#470e61" stroke="#470e61"/><circle r="2.35" cx="168.6" cy="286.1" fill="#481769" stroke="#481769"/><circle r="2.35" cx="201.7" cy="171.4" fill="#482475" stroke="#482475"/><circle r="2.35" cx="198.1" cy="184.2" fill="#481b6d" stroke="#481b6d"/><circle r="2.35" cx="160.4" cy="156.0" fill="#1e9d89" stroke="#1e9d89"/><circle r="2.35" cx="142.0" cy="219.8" fill="#21908d" stroke="#21908d"/><circle r="2.35" cx="134.6" cy="245.3" fill="#1f9a8a" stroke="#1f9a8a"/><circle r="2.35" cx="138.3" cy="232.5" fill="#1f998a" stroke="#1f998a"/><circle r="2.35" cx="146.8" cy="242.1" fill="#297b8e" stroke="#297b8e"/><circle r="2.35" cx="143.1" cy="254.9" fill="#2b748e" stroke="#2b748e"/><circle r="2.35" cx="172.5" cy="152.9" fill="#30698e" stroke="#30698e"/><circle r="2.35" cx="150.5" cy="229.4" fill="#2d718e" stroke="#2d718e"/><circle r="2.35" cx="155.3" cy="251.8" fill="#2d708e" stroke="#2d708e"/><circle r="2.35" cx="151.6" cy="264.5" fill="#3a548c" stroke="#3a548c"/><circle r="2.35" cx="184.7" cy="149.8" fill="#3e4c8a" stroke="#3e4c8a"/><circle r="2.35" cx="159.0" cy="239.0" fill="#3a548c" stroke="#3a548c"/><circle r="2.35" cx="167.5" cy="248.6" fill="#443a83" stroke="#443a83"/><circle r="2.35" cx="160.1" cy="274.1" fill="#38598c" stroke="#38598c"/><circle r="2.35" cx="163.8" cy="261.4" fill="#433d84" stroke="#433d84"/><circle r="2.35" cx="198.0" cy="181.8" fill="#470d60" stroke="#470d60"/><circle r="2.35" cx="194.4" cy="194.5" fill="#481467" stroke="#481467"/><circle r="2.35" cx="201.7" cy="169.0" fill="#482071" stroke="#482071"/><circle r="2.35" cx="205.4" cy="156.3" fill="#440154" stroke="#440154"/><circle r="2.35" cx="190.7" cy="207.3" fill="#471063" stroke="#471063"/><circle r="2.35" cx="172.3" cy="271.0" fill="#46085c" stroke="#46085c"/><circle r="2.35" cx="176.0" cy="258.3" fill="#481668" stroke="#481668"/><circle r="2.35" cx="187.0" cy="220.0" fill="#481467" stroke="#481467"/><circle r="2.35" cx="168.6" cy="283.8" fill="#481b6d" stroke="#481b6d"/><circle r="2.35" cx="183.3" cy="232.8" fill="#48186a" stroke="#48186a"/><circle r="2.35" cx="179.6" cy="245.5" fill="#481467" stroke="#481467"/></g><g fill-opacity="1.00" stroke-opacity="1.00"><circle r="2.35" cx="134.6" cy="242.9" fill="#20928c" stroke="#20928c"/><circle r="2.35" cx="141.9" cy="217.4" fill="#20928c" stroke="#20928c"/><circle r="2.35" cx="138.2" cy="230.1" fill="#20938c" stroke="#20938c"/><circle r="2.35" cx="160.3" cy="153.6" fill="#2c738e" stroke="#2c738e"/><circle r="2.35" cx="150.4" cy="227.0" fill="#2d718e" stroke="#2d718e"/><circle r="2.35" cx="143.1" cy="252.5" fill="#297b8e" stroke="#297b8e"/><circle r="2.35" cx="146.7" cy="239.7" fill="#2c728e" stroke="#2c728e"/><circle r="2.35" cx="172.5" cy="150.5" fill="#30698e" stroke="#30698e"/><circle r="2.35" cx="155.2" cy="249.4" fill="#38588c" stroke="#38588c"/><circle r="2.35" cx="151.6" cy="262.1" fill="#2d708e" stroke="#2d708e"/><circle r="2.35" cx="158.9" cy="236.6" fill="#365d8d" stroke="#365d8d"/><circle r="2.35" cx="160.1" cy="271.8" fill="#424086" stroke="#424086"/><circle r="2.35" cx="193.2" cy="157.0" fill="#482979" stroke="#482979"/><circle r="2.35" cx="167.4" cy="246.2" fill="#365c8d" stroke="#365c8d"/><circle r="2.35" cx="163.7" cy="259.0" fill="#423f85" stroke="#423f85"/><circle r="2.35" cx="179.6" cy="243.1" fill="#481a6c" stroke="#481a6c"/><circle r="2.35" cx="201.7" cy="166.6" fill="#460b5e" stroke="#460b5e"/><circle r="2.35" cx="205.4" cy="153.8" fill="#481467" stroke="#481467"/><circle r="2.35" cx="183.3" cy="230.4" fill="#481b6d" stroke="#481b6d"/><circle r="2.35" cx="168.6" cy="281.4" fill="#46327e" stroke="#46327e"/><circle r="2.35" cx="187.0" cy="217.6" fill="#470e61" stroke="#470e61"/><circle r="2.35" cx="190.7" cy="204.9" fill="#482576" stroke="#482576"/><circle r="2.35" cx="194.3" cy="192.1" fill="#481c6e" stroke="#481c6e"/><circle r="2.35" cx="175.9" cy="255.9" fill="#481f70" stroke="#481f70"/><circle r="2.35" cx="172.2" cy="268.6" fill="#481467" stroke="#481467"/><circle r="2.35" cx="198.0" cy="179.3" fill="#48186a" stroke="#48186a"/><circle r="2.35" cx="134.5" cy="240.5" fill="#21918c" stroke="#21918c"/><circle r="2.35" cx="138.2" cy="227.7" fill="#218f8d" stroke="#218f8d"/><circle r="2.35" cx="160.3" cy="151.1" fill="#25858e" stroke="#25858e"/><circle r="2.35" cx="141.9" cy="215.0" fill="#1f9f88" stroke="#1f9f88"/><circle r="2.35" cx="143.0" cy="250.1" fill="#1f9e89" stroke="#1f9e89"/><circle r="2.35" cx="146.7" cy="237.4" fill="#365c8d" stroke="#365c8d"/><circle r="2.35" cx="150.4" cy="224.6" fill="#287c8e" stroke="#287c8e"/><circle r="2.35" cx="155.2" cy="247.0" fill="#39568c" stroke="#39568c"/><circle r="2.35" cx="158.9" cy="234.2" fill="#38598c" stroke="#38598c"/><circle r="2.35" cx="181.0" cy="157.6" fill="#3c4f8a" stroke="#3c4f8a"/><circle r="2.35" cx="151.5" cy="259.8" fill="#2a788e" stroke="#2a788e"/><circle r="2.35" cx="163.7" cy="256.6" fill="#34618d" stroke="#34618d"/><circle r="2.35" cx="167.4" cy="243.9" fill="#472a7a" stroke="#472a7a"/><circle r="2.35" cx="160.0" cy="269.4" fill="#453781" stroke="#453781"/><circle r="2.35" cx="193.2" cy="154.5" fill="#3a538b" stroke="#3a538b"/><circle r="2.35" cx="190.6" cy="202.4" fill="#481f70" stroke="#481f70"/><circle r="2.35" cx="183.3" cy="228.0" fill="#482071" stroke="#482071"/><circle r="2.35" cx="172.2" cy="266.3" fill="#482071" stroke="#482071"/><circle r="2.35" cx="205.4" cy="151.4" fill="#471365" stroke="#471365"/><circle r="2.35" cx="179.6" cy="240.7" fill="#481467" stroke="#481467"/><circle r="2.35" cx="201.7" cy="164.1" fill="#481467" stroke="#481467"/><circle r="2.35" cx="186.9" cy="215.2" fill="#482173" stroke="#482173"/><circle r="2.35" cx="198.0" cy="176.9" fill="#450559" stroke="#450559"/><circle r="2.35" cx="194.3" cy="189.7" fill="#48186a" stroke="#48186a"/><circle r="2.35" cx="168.5" cy="279.0" fill="#471063" stroke="#471063"/><circle r="2.35" cx="175.9" cy="253.5" fill="#481467" stroke="#481467"/><circle r="2.35" cx="138.1" cy="225.3" fill="#21918c" stroke="#21918c"/><circle r="2.35" cx="134.4" cy="238.1" fill="#287c8e" stroke="#287c8e"/><circle r="2.35" cx="141.8" cy="212.6" fill="#20928c" stroke="#20928c"/><circle r="2.35" cx="150.3" cy="222.2" fill="#277f8e" stroke="#277f8e"/><circle r="2.35" cx="168.8" cy="158.3" fill="#2e6e8e" stroke="#2e6e8e"/><circle r="2.35" cx="146.6" cy="235.0" fill="#2c738e" stroke="#2c738e"/><circle r="2.35" cx="142.9" cy="247.7" fill="#2b758e" stroke="#2b758e"/><circle r="2.35" cx="151.5" cy="257.4" fill="#38598c" stroke="#38598c"/><circle r="2.35" cx="158.8" cy="231.8" fill="#39568c" stroke="#39568c"/><circle r="2.35" cx="155.1" cy="244.6" fill="#38598c" stroke="#38598c"/><circle r="2.35" cx="181.0" cy="155.2" fill="#424086" stroke="#424086"/><circle r="2.35" cx="167.3" cy="241.5" fill="#423f85" stroke="#423f85"/><circle r="2.35" cx="193.1" cy="152.1" fill="#482878" stroke="#482878"/><circle r="2.35" cx="160.0" cy="267.0" fill="#433d84" stroke="#433d84"/><circle r="2.35" cx="163.7" cy="254.2" fill="#46307e" stroke="#46307e"/><circle r="2.35" cx="175.9" cy="251.1" fill="#472e7c" stroke="#472e7c"/><circle r="2.35" cx="190.6" cy="200.0" fill="#48186a" stroke="#48186a"/><circle r="2.35" cx="198.0" cy="174.5" fill="#481c6e" stroke="#481c6e"/><circle r="2.35" cx="186.9" cy="212.8" fill="#472a7a" stroke="#472a7a"/><circle r="2.35" cx="168.5" cy="276.7" fill="#481b6d" stroke="#481b6d"/><circle r="2.35" cx="183.2" cy="225.6" fill="#482475" stroke="#482475"/><circle r="2.35" cx="179.5" cy="238.3" fill="#481f70" stroke="#481f70"/><circle r="2.35" cx="194.3" cy="187.3" fill="#482173" stroke="#482173"/><circle r="2.35" cx="172.2" cy="263.9" fill="#472d7b" stroke="#472d7b"/><circle r="2.35" cx="201.7" cy="161.7" fill="#481467" stroke="#481467"/><circle r="2.35" cx="156.5" cy="159.0" fill="#228d8d" stroke="#228d8d"/><circle r="2.35" cx="134.4" cy="235.7" fill="#20938c" stroke="#20938c"/><circle r="2.35" cx="141.8" cy="210.1" fill="#1f968b" stroke="#1f968b"/><circle r="2.35" cx="138.1" cy="222.9" fill="#1f958b" stroke="#1f958b"/><circle r="2.35" cx="168.7" cy="155.9" fill="#31668e" stroke="#31668e"/><circle r="2.35" cx="146.6" cy="232.6" fill="#375a8c" stroke="#375a8c"/><circle r="2.35" cx="150.3" cy="219.8" fill="#2c738e" stroke="#2c738e"/><circle r="2.35" cx="142.9" cy="245.3" fill="#2c738e" stroke="#2c738e"/><circle r="2.35" cx="151.4" cy="255.0" fill="#365c8d" stroke="#365c8d"/><circle r="2.35" cx="155.1" cy="242.2" fill="#2b748e" stroke="#2b748e"/><circle r="2.35" cx="158.8" cy="229.4" fill="#39558c" stroke="#39558c"/><circle r="2.35" cx="180.9" cy="152.8" fill="#414287" stroke="#414287"/><circle r="2.35" cx="167.3" cy="239.1" fill="#443983" stroke="#443983"/><circle r="2.35" cx="159.9" cy="264.6" fill="#433d84" stroke="#433d84"/><circle r="2.35" cx="163.6" cy="251.9" fill="#38598c" stroke="#38598c"/><circle r="2.35" cx="190.6" cy="197.6" fill="#482071" stroke="#482071"/><circle r="2.35" cx="183.2" cy="223.2" fill="#472e7c" stroke="#472e7c"/><circle r="2.35" cx="168.4" cy="274.3" fill="#481d6f" stroke="#481d6f"/><circle r="2.35" cx="172.1" cy="261.5" fill="#481f70" stroke="#481f70"/><circle r="2.35" cx="198.0" cy="172.1" fill="#481b6d" stroke="#481b6d"/><circle r="2.35" cx="194.3" cy="184.8" fill="#481467" stroke="#481467"/><circle r="2.35" cx="175.8" cy="248.7" fill="#481668" stroke="#481668"/><circle r="2.35" cx="179.5" cy="236.0" fill="#481769" stroke="#481769"/><circle r="2.35" cx="201.6" cy="159.3" fill="#471164" stroke="#471164"/><circle r="2.35" cx="186.9" cy="210.4" fill="#481d6f" stroke="#481d6f"/><circle r="2.35" cx="141.7" cy="207.7" fill="#21908d" stroke="#21908d"/><circle r="2.35" cx="134.3" cy="233.3" fill="#21908d" stroke="#21908d"/><circle r="2.35" cx="156.5" cy="156.6" fill="#26818e" stroke="#26818e"/><circle r="2.35" cx="138.0" cy="220.5" fill="#20928c" stroke="#20928c"/><circle r="2.35" cx="142.8" cy="243.0" fill="#33638d" stroke="#33638d"/><circle r="2.35" cx="146.5" cy="230.2" fill="#355f8d" stroke="#355f8d"/><circle r="2.35" cx="168.7" cy="153.5" fill="#25848e" stroke="#25848e"/><circle r="2.35" cx="150.2" cy="217.4" fill="#228c8d" stroke="#228c8d"/><circle r="2.35" cx="158.7" cy="227.0" fill="#365d8d" stroke="#365d8d"/><circle r="2.35" cx="155.1" cy="239.8" fill="#3e4989" stroke="#3e4989"/><circle r="2.35" cx="151.4" cy="252.6" fill="#3f4788" stroke="#3f4788"/><circle r="2.35" cx="163.6" cy="249.5" fill="#46337f" stroke="#46337f"/><circle r="2.35" cx="159.9" cy="262.3" fill="#472d7b" stroke="#472d7b"/><circle r="2.35" cx="189.4" cy="160.0" fill="#472e7c" stroke="#472e7c"/><circle r="2.35" cx="167.3" cy="236.7" fill="#433e85" stroke="#433e85"/><circle r="2.35" cx="168.4" cy="271.9" fill="#481668" stroke="#481668"/><circle r="2.35" cx="175.8" cy="246.3" fill="#481d6f" stroke="#481d6f"/><circle r="2.35" cx="186.9" cy="208.0" fill="#470e61" stroke="#470e61"/><circle r="2.35" cx="190.6" cy="195.2" fill="#481f70" stroke="#481f70"/><circle r="2.35" cx="183.2" cy="220.8" fill="#471365" stroke="#471365"/><circle r="2.35" cx="201.6" cy="156.8" fill="#471365" stroke="#471365"/><circle r="2.35" cx="179.5" cy="233.6" fill="#482576" stroke="#482576"/><circle r="2.35" cx="194.2" cy="182.4" fill="#481b6d" stroke="#481b6d"/><circle r="2.35" cx="172.1" cy="259.1" fill="#481467" stroke="#481467"/><circle r="2.35" cx="197.9" cy="169.6" fill="#471365" stroke="#471365"/><circle r="2.35" cx="138.0" cy="218.1" fill="#23a983" stroke="#23a983"/><circle r="2.35" cx="156.4" cy="154.2" fill="#218e8d" stroke="#218e8d"/><circle r="2.35" cx="141.7" cy="205.3" fill="#1f998a" stroke="#1f998a"/><circle r="2.35" cx="134.3" cy="230.9" fill="#20928c" stroke="#20928c"/><circle r="2.35" cx="142.8" cy="240.6" fill="#33638d" stroke="#33638d"/><circle r="2.35" cx="150.2" cy="215.0" fill="#306a8e" stroke="#306a8e"/><circle r="2.35" cx="146.5" cy="227.8" fill="#238a8d" stroke="#238a8d"/><circle r="2.35" cx="151.3" cy="250.2" fill="#375a8c" stroke="#375a8c"/><circle r="2.35" cx="177.2" cy="160.7" fill="#3c508b" stroke="#3c508b"/><circle r="2.35" cx="155.0" cy="237.4" fill="#375b8d" stroke="#375b8d"/><circle r="2.35" cx="158.7" cy="224.6" fill="#39568c" stroke="#39568c"/><circle r="2.35" cx="159.8" cy="259.9" fill="#30698e" stroke="#30698e"/><circle r="2.35" cx="189.4" cy="157.5" fill="#46337f" stroke="#46337f"/><circle r="2.35" cx="167.2" cy="234.3" fill="#453781" stroke="#453781"/><circle r="2.35" cx="163.5" cy="247.1" fill="#443a83" stroke="#443a83"/><circle r="2.35" cx="201.6" cy="154.4" fill="#471164" stroke="#471164"/><circle r="2.35" cx="179.4" cy="231.2" fill="#48186a" stroke="#48186a"/><circle r="2.35" cx="190.5" cy="192.8" fill="#481769" stroke="#481769"/><circle r="2.35" cx="194.2" cy="180.0" fill="#471063" stroke="#471063"/><circle r="2.35" cx="183.1" cy="218.4" fill="#482677" stroke="#482677"/><circle r="2.35" cx="175.8" cy="243.9" fill="#481f70" stroke="#481f70"/><circle r="2.35" cx="197.9" cy="167.2" fill="#470d60" stroke="#470d60"/><circle r="2.35" cx="168.4" cy="269.5" fill="#482475" stroke="#482475"/><circle r="2.35" cx="186.8" cy="205.6" fill="#481d6f" stroke="#481d6f"/><circle r="2.35" cx="172.1" cy="256.7" fill="#482071" stroke="#482071"/><circle r="2.35" cx="141.6" cy="202.9" fill="#1fa187" stroke="#1fa187"/><circle r="2.35" cx="134.2" cy="228.5" fill="#25858e" stroke="#25858e"/><circle r="2.35" cx="137.9" cy="215.7" fill="#1f9a8a" stroke="#1f9a8a"/><circle r="2.35" cx="150.1" cy="212.6" fill="#2c738e" stroke="#2c738e"/><circle r="2.35" cx="146.4" cy="225.4" fill="#2c718e" stroke="#2c718e"/><circle r="2.35" cx="142.7" cy="238.2" fill="#22a884" stroke="#22a884"/><circle r="2.35" cx="164.9" cy="161.4" fill="#2e6e8e" stroke="#2e6e8e"/><circle r="2.35" cx="177.1" cy="158.2" fill="#3b528b" stroke="#3b528b"/><circle r="2.35" cx="151.3" cy="247.8" fill="#2b748e" stroke="#2b748e"/><circle r="2.35" cx="158.7" cy="222.2" fill="#3a548c" stroke="#3a548c"/><circle r="2.35" cx="155.0" cy="235.0" fill="#2a768e" stroke="#2a768e"/><circle r="2.35" cx="167.2" cy="231.9" fill="#3f4788" stroke="#3f4788"/><circle r="2.35" cx="189.4" cy="155.1" fill="#46307e" stroke="#46307e"/><circle r="2.35" cx="159.8" cy="257.5" fill="#414487" stroke="#414487"/><circle r="2.35" cx="163.5" cy="244.7" fill="#34608d" stroke="#34608d"/><circle r="2.35" cx="179.4" cy="228.8" fill="#481668" stroke="#481668"/><circle r="2.35" cx="186.8" cy="203.2" fill="#46307e" stroke="#46307e"/><circle r="2.35" cx="175.7" cy="241.6" fill="#482374" stroke="#482374"/><circle r="2.35" cx="168.3" cy="267.2" fill="#481f70" stroke="#481f70"/><circle r="2.35" cx="172.0" cy="254.4" fill="#482173" stroke="#482173"/><circle r="2.35" cx="194.2" cy="177.5" fill="#481b6d" stroke="#481b6d"/><circle r="2.35" cx="190.5" cy="190.4" fill="#481a6c" stroke="#481a6c"/><circle r="2.35" cx="197.9" cy="164.7" fill="#470d60" stroke="#470d60"/><circle r="2.35" cx="183.1" cy="216.0" fill="#482173" stroke="#482173"/><circle r="2.35" cx="134.2" cy="226.1" fill="#20928c" stroke="#20928c"/><circle r="2.35" cx="137.9" cy="213.3" fill="#50c46a" stroke="#50c46a"/><circle r="2.35" cx="141.6" cy="200.5" fill="#1f968b" stroke="#1f968b"/><circle r="2.35" cx="152.6" cy="162.1" fill="#238a8d" stroke="#238a8d"/><circle r="2.35" cx="142.7" cy="235.8" fill="#20a486" stroke="#20a486"/><circle r="2.35" cx="150.1" cy="210.2" fill="#2e6f8e" stroke="#2e6f8e"/><circle r="2.35" cx="146.4" cy="223.0" fill="#23a983" stroke="#23a983"/><circle r="2.35" cx="164.9" cy="158.9" fill="#2f6b8e" stroke="#2f6b8e"/><circle r="2.35" cx="177.1" cy="155.8" fill="#3b518b" stroke="#3b518b"/><circle r="2.35" cx="151.2" cy="245.4" fill="#34618d" stroke="#34618d"/><circle r="2.35" cx="158.6" cy="219.8" fill="#3d4d8a" stroke="#3d4d8a"/><circle r="2.35" cx="154.9" cy="232.6" fill="#34608d" stroke="#34608d"/><circle r="2.35" cx="163.5" cy="242.3" fill="#443b84" stroke="#443b84"/><circle r="2.35" cx="159.8" cy="255.1" fill="#424186" stroke="#424186"/><circle r="2.35" cx="167.2" cy="229.5" fill="#433d84" stroke="#433d84"/><circle r="2.35" cx="179.4" cy="226.3" fill="#481b6d" stroke="#481b6d"/><circle r="2.35" cx="168.3" cy="264.8" fill="#460b5e" stroke="#460b5e"/><circle r="2.35" cx="172.0" cy="252.0" fill="#482475" stroke="#482475"/><circle r="2.35" cx="183.1" cy="213.5" fill="#48186a" stroke="#48186a"/><circle r="2.35" cx="186.8" cy="200.7" fill="#481f70" stroke="#481f70"/><circle r="2.35" cx="190.5" cy="187.9" fill="#482173" stroke="#482173"/><circle r="2.35" cx="197.9" cy="162.3" fill="#481b6d" stroke="#481b6d"/><circle r="2.35" cx="194.2" cy="175.1" fill="#48186a" stroke="#48186a"/><circle r="2.35" cx="175.7" cy="239.2" fill="#481d6f" stroke="#481d6f"/><circle r="2.35" cx="134.1" cy="223.7" fill="#21918c" stroke="#21918c"/><circle r="2.35" cx="137.8" cy="210.9" fill="#287d8e" stroke="#287d8e"/><circle r="2.35" cx="141.5" cy="198.1" fill="#287d8e" stroke="#287d8e"/><circle r="2.35" cx="152.6" cy="159.6" fill="#228b8d" stroke="#228b8d"/><circle r="2.35" cx="146.3" cy="220.5" fill="#31688e" stroke="#31688e"/><circle r="2.35" cx="142.6" cy="233.4" fill="#228d8d" stroke="#228d8d"/><circle r="2.35" cx="150.0" cy="207.7" fill="#1f9f88" stroke="#1f9f88"/><circle r="2.35" cx="164.8" cy="156.5" fill="#2d708e" stroke="#2d708e"/><circle r="2.35" cx="154.9" cy="230.2" fill="#34618d" stroke="#34618d"/><circle r="2.35" cx="151.2" cy="243.0" fill="#39558c" stroke="#39558c"/><circle r="2.35" cx="158.6" cy="217.4" fill="#38598c" stroke="#38598c"/><circle r="2.35" cx="185.6" cy="163.0" fill="#433d84" stroke="#433d84"/><circle r="2.35" cx="167.1" cy="227.1" fill="#443b84" stroke="#443b84"/><circle r="2.35" cx="163.4" cy="239.9" fill="#472f7d" stroke="#472f7d"/><circle r="2.35" cx="159.7" cy="252.7" fill="#472f7d" stroke="#472f7d"/><circle r="2.35" cx="186.8" cy="198.3" fill="#481467" stroke="#481467"/><circle r="2.35" cx="172.0" cy="249.6" fill="#482173" stroke="#482173"/><circle r="2.35" cx="168.3" cy="262.4" fill="#481f70" stroke="#481f70"/><circle r="2.35" cx="190.5" cy="185.5" fill="#481a6c" stroke="#481a6c"/><circle r="2.35" cx="179.4" cy="223.9" fill="#471365" stroke="#471365"/><circle r="2.35" cx="194.2" cy="172.7" fill="#471063" stroke="#471063"/><circle r="2.35" cx="175.7" cy="236.8" fill="#482475" stroke="#482475"/><circle r="2.35" cx="183.1" cy="211.1" fill="#481d6f" stroke="#481d6f"/><circle r="2.35" cx="197.9" cy="159.9" fill="#471063" stroke="#471063"/><circle r="2.35" cx="137.7" cy="208.5" fill="#20a386" stroke="#20a386"/><circle r="2.35" cx="134.0" cy="221.3" fill="#1f948c" stroke="#1f948c"/><circle r="2.35" cx="152.5" cy="157.2" fill="#22a785" stroke="#22a785"/><circle r="2.35" cx="141.4" cy="195.6" fill="#1f948c" stroke="#1f948c"/><circle r="2.35" cx="142.6" cy="231.0" fill="#34608d" stroke="#34608d"/><circle r="2.35" cx="150.0" cy="205.3" fill="#25838e" stroke="#25838e"/><circle r="2.35" cx="146.3" cy="218.1" fill="#20928c" stroke="#20928c"/><circle r="2.35" cx="151.1" cy="240.6" fill="#34608d" stroke="#34608d"/><circle r="2.35" cx="173.3" cy="163.7" fill="#2b758e" stroke="#2b758e"/><circle r="2.35" cx="158.5" cy="215.0" fill="#3e4a89" stroke="#3e4a89"/><circle r="2.35" cx="154.8" cy="227.8" fill="#39568c" stroke="#39568c"/><circle r="2.35" cx="185.6" cy="160.6" fill="#481b6d" stroke="#481b6d"/><circle r="2.35" cx="163.4" cy="237.5" fill="#31688e" stroke="#31688e"/><circle r="2.35" cx="167.1" cy="224.7" fill="#453781" stroke="#453781"/><circle r="2.35" cx="159.7" cy="250.3" fill="#424186" stroke="#424186"/><circle r="2.35" cx="186.7" cy="195.9" fill="#472d7b" stroke="#472d7b"/><circle r="2.35" cx="183.0" cy="208.7" fill="#48186a" stroke="#48186a"/><circle r="2.35" cx="171.9" cy="247.2" fill="#481b6d" stroke="#481b6d"/><circle r="2.35" cx="179.3" cy="221.5" fill="#472a7a" stroke="#472a7a"/><circle r="2.35" cx="168.2" cy="260.0" fill="#453882" stroke="#453882"/><circle r="2.35" cx="194.1" cy="170.2" fill="#482173" stroke="#482173"/><circle r="2.35" cx="197.8" cy="157.4" fill="#471063" stroke="#471063"/><circle r="2.35" cx="175.6" cy="234.4" fill="#482475" stroke="#482475"/><circle r="2.35" cx="190.4" cy="183.1" fill="#472f7d" stroke="#472f7d"/><circle r="2.35" cx="141.4" cy="193.2" fill="#20938c" stroke="#20938c"/><circle r="2.35" cx="134.0" cy="218.9" fill="#218f8d" stroke="#218f8d"/><circle r="2.35" cx="137.7" cy="206.0" fill="#42be71" stroke="#42be71"/><circle r="2.35" cx="149.9" cy="202.9" fill="#33628d" stroke="#33628d"/><circle r="2.35" cx="161.1" cy="164.4" fill="#2f6b8e" stroke="#2f6b8e"/><circle r="2.35" cx="142.5" cy="228.6" fill="#297b8e" stroke="#297b8e"/><circle r="2.35" cx="146.2" cy="215.7" fill="#29798e" stroke="#29798e"/><circle r="2.35" cx="151.1" cy="238.2" fill="#3d4d8a" stroke="#3d4d8a"/><circle r="2.35" cx="158.5" cy="212.6" fill="#3a538b" stroke="#3a538b"/><circle r="2.35" cx="154.8" cy="225.4" fill="#297a8e" stroke="#297a8e"/><circle r="2.35" cx="173.3" cy="161.3" fill="#39558c" stroke="#39558c"/><circle r="2.35" cx="185.6" cy="158.1" fill="#463480" stroke="#463480"/><circle r="2.35" cx="163.3" cy="235.1" fill="#482173" stroke="#482173"/><circle r="2.35" cx="159.6" cy="247.9" fill="#443a83" stroke="#443a83"/><circle r="2.35" cx="167.0" cy="222.3" fill="#453581" stroke="#453581"/><circle r="2.35" cx="194.1" cy="167.8" fill="#482071" stroke="#482071"/><circle r="2.35" cx="183.0" cy="206.3" fill="#482576" stroke="#482576"/><circle r="2.35" cx="179.3" cy="219.1" fill="#443983" stroke="#443983"/><circle r="2.35" cx="171.9" cy="244.8" fill="#481467" stroke="#481467"/><circle r="2.35" cx="168.2" cy="257.6" fill="#481769" stroke="#481769"/><circle r="2.35" cx="190.4" cy="180.6" fill="#48186a" stroke="#48186a"/><circle r="2.35" cx="175.6" cy="232.0" fill="#482878" stroke="#482878"/><circle r="2.35" cx="186.7" cy="193.5" fill="#482979" stroke="#482979"/><circle r="2.35" cx="141.3" cy="190.8" fill="#26818e" stroke="#26818e"/><circle r="2.35" cx="137.6" cy="203.6" fill="#20928c" stroke="#20928c"/><circle r="2.35" cx="148.8" cy="165.1" fill="#1f9a8a" stroke="#1f9a8a"/><circle r="2.35" cx="133.9" cy="216.5" fill="#24868e" stroke="#24868e"/><circle r="2.35" cx="146.2" cy="213.3" fill="#23898e" stroke="#23898e"/><circle r="2.35" cx="149.9" cy="200.5" fill="#31668e" stroke="#31668e"/><circle r="2.35" cx="142.5" cy="226.1" fill="#228c8d" stroke="#228c8d"/><circle r="2.35" cx="161.0" cy="162.0" fill="#27808e" stroke="#27808e"/><circle r="2.35" cx="154.7" cy="223.0" fill="#33628d" stroke="#33628d"/><circle r="2.35" cx="151.0" cy="235.8" fill="#34618d" stroke="#34618d"/><circle r="2.35" cx="173.3" cy="158.8" fill="#38588c" stroke="#38588c"/><circle r="2.35" cx="158.4" cy="210.2" fill="#404688" stroke="#404688"/><circle r="2.35" cx="163.3" cy="232.7" fill="#472f7d" stroke="#472f7d"/><circle r="2.35" cx="167.0" cy="219.9" fill="#375b8d" stroke="#375b8d"/><circle r="2.35" cx="159.6" cy="245.5" fill="#433d84" stroke="#433d84"/><circle r="2.35" cx="168.1" cy="255.2" fill="#482576" stroke="#482576"/><circle r="2.35" cx="194.1" cy="165.4" fill="#472f7d" stroke="#472f7d"/><circle r="2.35" cx="190.4" cy="178.2" fill="#481b6d" stroke="#481b6d"/><circle r="2.35" cx="179.3" cy="216.7" fill="#482173" stroke="#482173"/><circle r="2.35" cx="186.7" cy="191.0" fill="#471164" stroke="#471164"/><circle r="2.35" cx="183.0" cy="203.9" fill="#470e61" stroke="#470e61"/><circle r="2.35" cx="171.9" cy="242.4" fill="#471365" stroke="#471365"/><circle r="2.35" cx="175.6" cy="229.5" fill="#481d6f" stroke="#481d6f"/><circle r="2.35" cx="137.6" cy="201.2" fill="#277e8e" stroke="#277e8e"/><circle r="2.35" cx="133.9" cy="214.0" fill="#22a785" stroke="#22a785"/><circle r="2.35" cx="148.7" cy="162.7" fill="#238a8d" stroke="#238a8d"/><circle r="2.35" cx="141.3" cy="188.3" fill="#20938c" stroke="#20938c"/><circle r="2.35" cx="149.8" cy="198.0" fill="#2b758e" stroke="#2b758e"/><circle r="2.35" cx="146.1" cy="210.9" fill="#297a8e" stroke="#297a8e"/><circle r="2.35" cx="161.0" cy="159.5" fill="#2e6d8e" stroke="#2e6d8e"/><circle r="2.35" cx="142.4" cy="223.7" fill="#26828e" stroke="#26828e"/><circle r="2.35" cx="154.7" cy="220.6" fill="#3f4889" stroke="#3f4889"/><circle r="2.35" cx="158.4" cy="207.7" fill="#29798e" stroke="#29798e"/><circle r="2.35" cx="151.0" cy="233.4" fill="#355f8d" stroke="#355f8d"/><circle r="2.35" cx="163.3" cy="230.3" fill="#3f4889" stroke="#3f4889"/><circle r="2.35" cx="159.6" cy="243.1" fill="#424186" stroke="#424186"/><circle r="2.35" cx="167.0" cy="217.4" fill="#424186" stroke="#424186"/><circle r="2.35" cx="181.8" cy="166.1" fill="#481f70" stroke="#481f70"/><circle r="2.35" cx="168.1" cy="252.8" fill="#481a6c" stroke="#481a6c"/><circle r="2.35" cx="190.4" cy="175.7" fill="#472d7b" stroke="#472d7b"/><circle r="2.35" cx="175.5" cy="227.1" fill="#481a6c" stroke="#481a6c"/><circle r="2.35" cx="182.9" cy="201.4" fill="#481d6f" stroke="#481d6f"/><circle r="2.35" cx="171.8" cy="240.0" fill="#443983" stroke="#443983"/><circle r="2.35" cx="194.1" cy="162.9" fill="#481668" stroke="#481668"/><circle r="2.35" cx="186.7" cy="188.6" fill="#482173" stroke="#482173"/><circle r="2.35" cx="179.2" cy="214.3" fill="#471365" stroke="#471365"/><circle r="2.35" cx="141.2" cy="185.9" fill="#2a788e" stroke="#2a788e"/><circle r="2.35" cx="133.8" cy="211.6" fill="#1f988b" stroke="#1f988b"/><circle r="2.35" cx="148.7" cy="160.2" fill="#1e9c89" stroke="#1e9c89"/><circle r="2.35" cx="137.5" cy="198.8" fill="#20928c" stroke="#20928c"/><circle r="2.35" cx="149.8" cy="195.6" fill="#34618d" stroke="#34618d"/><circle r="2.35" cx="146.1" cy="208.5" fill="#2a768e" stroke="#2a768e"/><circle r="2.35" cx="142.4" cy="221.3" fill="#29798e" stroke="#29798e"/><circle r="2.35" cx="169.5" cy="166.8" fill="#39558c" stroke="#39558c"/><circle r="2.35" cx="158.4" cy="205.3" fill="#38588c" stroke="#38588c"/><circle r="2.35" cx="150.9" cy="231.0" fill="#2e6e8e" stroke="#2e6e8e"/><circle r="2.35" cx="154.7" cy="218.2" fill="#34618d" stroke="#34618d"/><circle r="2.35" cx="166.9" cy="215.0" fill="#3e4a89" stroke="#3e4a89"/><circle r="2.35" cx="163.2" cy="227.9" fill="#32648e" stroke="#32648e"/><circle r="2.35" cx="159.5" cy="240.7" fill="#443b84" stroke="#443b84"/><circle r="2.35" cx="181.8" cy="163.6" fill="#453882" stroke="#453882"/><circle r="2.35" cx="168.1" cy="250.4" fill="#481d6f" stroke="#481d6f"/><circle r="2.35" cx="171.8" cy="237.6" fill="#482374" stroke="#482374"/><circle r="2.35" cx="179.2" cy="211.9" fill="#481467" stroke="#481467"/><circle r="2.35" cx="175.5" cy="224.7" fill="#481c6e" stroke="#481c6e"/><circle r="2.35" cx="194.0" cy="160.5" fill="#460b5e" stroke="#460b5e"/><circle r="2.35" cx="190.3" cy="173.3" fill="#482576" stroke="#482576"/><circle r="2.35" cx="182.9" cy="199.0" fill="#481c6e" stroke="#481c6e"/><circle r="2.35" cx="186.6" cy="186.2" fill="#482173" stroke="#482173"/><circle r="2.35" cx="133.8" cy="209.2" fill="#218f8d" stroke="#218f8d"/><circle r="2.35" cx="141.2" cy="183.5" fill="#21908d" stroke="#21908d"/><circle r="2.35" cx="137.5" cy="196.3" fill="#22a785" stroke="#22a785"/><circle r="2.35" cx="157.2" cy="167.5" fill="#2c728e" stroke="#2c728e"/><circle r="2.35" cx="146.0" cy="206.0" fill="#2a778e" stroke="#2a778e"/><circle r="2.35" cx="149.8" cy="193.2" fill="#20a486" stroke="#20a486"/><circle r="2.35" cx="142.3" cy="218.9" fill="#238a8d" stroke="#238a8d"/><circle r="2.35" cx="150.9" cy="228.6" fill="#34618d" stroke="#34618d"/><circle r="2.35" cx="154.6" cy="215.7" fill="#34608d" stroke="#34608d"/><circle r="2.35" cx="158.3" cy="202.9" fill="#287c8e" stroke="#287c8e"/><circle r="2.35" cx="169.5" cy="164.3" fill="#424186" stroke="#424186"/><circle r="2.35" cx="163.2" cy="225.5" fill="#414487" stroke="#414487"/><circle r="2.35" cx="181.7" cy="161.2" fill="#453781" stroke="#453781"/><circle r="2.35" cx="166.9" cy="212.6" fill="#443b84" stroke="#443b84"/><circle r="2.35" cx="159.5" cy="238.3" fill="#453882" stroke="#453882"/><circle r="2.35" cx="190.3" cy="170.9" fill="#48186a" stroke="#48186a"/><circle r="2.35" cx="182.9" cy="196.6" fill="#482979" stroke="#482979"/><circle r="2.35" cx="171.7" cy="235.2" fill="#481f70" stroke="#481f70"/><circle r="2.35" cx="179.2" cy="209.4" fill="#481f70" stroke="#481f70"/><circle r="2.35" cx="186.6" cy="183.7" fill="#48186a" stroke="#48186a"/><circle r="2.35" cx="175.5" cy="222.3" fill="#481c6e" stroke="#481c6e"/><circle r="2.35" cx="168.0" cy="248.0" fill="#481c6e" stroke="#481c6e"/><circle r="2.35" cx="141.1" cy="181.0" fill="#1f9e89" stroke="#1f9e89"/><circle r="2.35" cx="133.7" cy="206.8" fill="#56c667" stroke="#56c667"/><circle r="2.35" cx="144.8" cy="168.2" fill="#21908d" stroke="#21908d"/><circle r="2.35" cx="137.4" cy="193.9" fill="#1f968b" stroke="#1f968b"/><circle r="2.35" cx="157.1" cy="165.0" fill="#3a548c" stroke="#3a548c"/><circle r="2.35" cx="142.3" cy="216.5" fill="#228b8d" stroke="#228b8d"/><circle r="2.35" cx="149.7" cy="190.7" fill="#2c738e" stroke="#2c738e"/><circle r="2.35" cx="146.0" cy="203.6" fill="#2b748e" stroke="#2b748e"/><circle r="2.35" cx="154.6" cy="213.3" fill="#34608d" stroke="#34608d"/><circle r="2.35" cx="169.4" cy="161.9" fill="#39558c" stroke="#39558c"/><circle r="2.35" cx="150.8" cy="226.2" fill="#3e4c8a" stroke="#3e4c8a"/><circle r="2.35" cx="158.3" cy="200.5" fill="#355f8d" stroke="#355f8d"/><circle r="2.35" cx="163.1" cy="223.0" fill="#424186" stroke="#424186"/><circle r="2.35" cx="159.4" cy="235.9" fill="#424186" stroke="#424186"/><circle r="2.35" cx="166.9" cy="210.2" fill="#414487" stroke="#414487"/><circle r="2.35" cx="186.6" cy="181.3" fill="#472a7a" stroke="#472a7a"/><circle r="2.35" cx="182.9" cy="194.1" fill="#481d6f" stroke="#481d6f"/><circle r="2.35" cx="171.7" cy="232.7" fill="#482475" stroke="#482475"/><circle r="2.35" cx="190.3" cy="168.4" fill="#481c6e" stroke="#481c6e"/><circle r="2.35" cx="168.0" cy="245.6" fill="#481769" stroke="#481769"/><circle r="2.35" cx="179.1" cy="207.0" fill="#481c6e" stroke="#481c6e"/><circle r="2.35" cx="175.4" cy="219.9" fill="#481c6e" stroke="#481c6e"/><circle r="2.35" cx="137.4" cy="191.5" fill="#228c8d" stroke="#228c8d"/><circle r="2.35" cx="133.6" cy="204.3" fill="#20928c" stroke="#20928c"/><circle r="2.35" cx="144.8" cy="165.7" fill="#20928c" stroke="#20928c"/><circle r="2.35" cx="141.1" cy="178.6" fill="#20a486" stroke="#20a486"/><circle r="2.35" cx="145.9" cy="201.2" fill="#1e9c89" stroke="#1e9c89"/><circle r="2.35" cx="149.7" cy="188.3" fill="#297a8e" stroke="#297a8e"/><circle r="2.35" cx="142.2" cy="214.1" fill="#26828e" stroke="#26828e"/><circle r="2.35" cx="157.1" cy="162.6" fill="#2f6b8e" stroke="#2f6b8e"/><circle r="2.35" cx="154.5" cy="210.9" fill="#3d4d8a" stroke="#3d4d8a"/><circle r="2.35" cx="158.2" cy="198.0" fill="#355e8d" stroke="#355e8d"/><circle r="2.35" cx="150.8" cy="223.8" fill="#404688" stroke="#404688"/><circle r="2.35" cx="163.1" cy="220.6" fill="#424086" stroke="#424086"/><circle r="2.35" cx="159.4" cy="233.5" fill="#433d84" stroke="#433d84"/><circle r="2.35" cx="166.8" cy="207.7" fill="#3f4889" stroke="#3f4889"/><circle r="2.35" cx="178.0" cy="169.1" fill="#443983" stroke="#443983"/><circle r="2.35" cx="168.0" cy="243.2" fill="#482576" stroke="#482576"/><circle r="2.35" cx="186.5" cy="178.8" fill="#472f7d" stroke="#472f7d"/><circle r="2.35" cx="190.3" cy="166.0" fill="#481d6f" stroke="#481d6f"/><circle r="2.35" cx="171.7" cy="230.3" fill="#472e7c" stroke="#472e7c"/><circle r="2.35" cx="175.4" cy="217.5" fill="#472a7a" stroke="#472a7a"/><circle r="2.35" cx="179.1" cy="204.6" fill="#472d7b" stroke="#472d7b"/><circle r="2.35" cx="182.8" cy="191.7" fill="#482374" stroke="#482374"/><circle r="2.35" cx="137.3" cy="189.0" fill="#1fa287" stroke="#1fa287"/><circle r="2.35" cx="141.0" cy="176.1" fill="#297a8e" stroke="#297a8e"/><circle r="2.35" cx="133.6" cy="201.9" fill="#25838e" stroke="#25838e"/><circle r="2.35" cx="144.7" cy="163.3" fill="#228d8d" stroke="#228d8d"/><circle r="2.35" cx="145.9" cy="198.7" fill="#33638d" stroke="#33638d"/><circle r="2.35" cx="142.2" cy="211.6" fill="#287c8e" stroke="#287c8e"/><circle r="2.35" cx="149.6" cy="185.9" fill="#34608d" stroke="#34608d"/><circle r="2.35" cx="158.2" cy="195.6" fill="#355f8d" stroke="#355f8d"/><circle r="2.35" cx="154.5" cy="208.5" fill="#3b528b" stroke="#3b528b"/><circle r="2.35" cx="150.8" cy="221.3" fill="#34618d" stroke="#34618d"/><circle r="2.35" cx="165.6" cy="169.8" fill="#365c8d" stroke="#365c8d"/><circle r="2.35" cx="159.3" cy="231.1" fill="#404688" stroke="#404688"/><circle r="2.35" cx="163.1" cy="218.2" fill="#46307e" stroke="#46307e"/><circle r="2.35" cx="177.9" cy="166.7" fill="#433e85" stroke="#433e85"/><circle r="2.35" cx="166.8" cy="205.3" fill="#433e85" stroke="#433e85"/><circle r="2.35" cx="179.1" cy="202.2" fill="#482677" stroke="#482677"/><circle r="2.35" cx="167.9" cy="240.8" fill="#472a7a" stroke="#472a7a"/><circle r="2.35" cx="186.5" cy="176.4" fill="#481f70" stroke="#481f70"/><circle r="2.35" cx="182.8" cy="189.3" fill="#482576" stroke="#482576"/><circle r="2.35" cx="190.2" cy="163.5" fill="#481f70" stroke="#481f70"/><circle r="2.35" cx="171.6" cy="227.9" fill="#463480" stroke="#463480"/><circle r="2.35" cx="175.4" cy="215.0" fill="#481c6e" stroke="#481c6e"/><circle r="2.35" cx="141.0" cy="173.7" fill="#20a386" stroke="#20a386"/><circle r="2.35" cx="137.3" cy="186.6" fill="#228b8d" stroke="#228b8d"/><circle r="2.35" cx="133.5" cy="199.5" fill="#20928c" stroke="#20928c"/><circle r="2.35" cx="149.6" cy="183.4" fill="#24868e" stroke="#24868e"/><circle r="2.35" cx="145.8" cy="196.3" fill="#2c738e" stroke="#2c738e"/><circle r="2.35" cx="142.1" cy="209.2" fill="#26818e" stroke="#26818e"/><circle r="2.35" cx="153.3" cy="170.5" fill="#2f6c8e" stroke="#2f6c8e"/><circle r="2.35" cx="158.1" cy="193.1" fill="#355e8d" stroke="#355e8d"/><circle r="2.35" cx="154.4" cy="206.0" fill="#32648e" stroke="#32648e"/><circle r="2.35" cx="165.6" cy="167.4" fill="#3f4788" stroke="#3f4788"/><circle r="2.35" cx="150.7" cy="218.9" fill="#33638d" stroke="#33638d"/><circle r="2.35" cx="159.3" cy="228.7" fill="#404588" stroke="#404588"/><circle r="2.35" cx="163.0" cy="215.8" fill="#443983" stroke="#443983"/><circle r="2.35" cx="177.9" cy="164.2" fill="#433d84" stroke="#433d84"/><circle r="2.35" cx="166.7" cy="202.9" fill="#3d4e8a" stroke="#3d4e8a"/><circle r="2.35" cx="167.9" cy="238.4" fill="#482677" stroke="#482677"/><circle r="2.35" cx="186.5" cy="173.9" fill="#481a6c" stroke="#481a6c"/><circle r="2.35" cx="171.6" cy="225.5" fill="#482979" stroke="#482979"/><circle r="2.35" cx="179.1" cy="199.7" fill="#482576" stroke="#482576"/><circle r="2.35" cx="175.3" cy="212.6" fill="#472a7a" stroke="#472a7a"/><circle r="2.35" cx="182.8" cy="186.8" fill="#472c7a" stroke="#472c7a"/><circle r="2.35" cx="133.5" cy="197.0" fill="#5ac864" stroke="#5ac864"/><circle r="2.35" cx="137.2" cy="184.1" fill="#218e8d" stroke="#218e8d"/><circle r="2.35" cx="140.9" cy="171.2" fill="#21918c" stroke="#21918c"/><circle r="2.35" cx="153.2" cy="168.1" fill="#2e6f8e" stroke="#2e6f8e"/><circle r="2.35" cx="145.8" cy="193.9" fill="#1f968b" stroke="#1f968b"/><circle r="2.35" cx="149.5" cy="181.0" fill="#297a8e" stroke="#297a8e"/><circle r="2.35" cx="142.1" cy="206.8" fill="#306a8e" stroke="#306a8e"/><circle r="2.35" cx="158.1" cy="190.7" fill="#355f8d" stroke="#355f8d"/><circle r="2.35" cx="150.7" cy="216.5" fill="#365d8d" stroke="#365d8d"/><circle r="2.35" cx="154.4" cy="203.6" fill="#39558c" stroke="#39558c"/><circle r="2.35" cx="165.6" cy="164.9" fill="#365d8d" stroke="#365d8d"/><circle r="2.35" cx="166.7" cy="200.4" fill="#424186" stroke="#424186"/><circle r="2.35" cx="159.3" cy="226.2" fill="#424086" stroke="#424086"/><circle r="2.35" cx="163.0" cy="213.3" fill="#424186" stroke="#424186"/><circle r="2.35" cx="175.3" cy="210.2" fill="#453781" stroke="#453781"/><circle r="2.35" cx="179.0" cy="197.3" fill="#472d7b" stroke="#472d7b"/><circle r="2.35" cx="171.6" cy="223.1" fill="#46307e" stroke="#46307e"/><circle r="2.35" cx="186.5" cy="171.5" fill="#482071" stroke="#482071"/><circle r="2.35" cx="167.8" cy="236.0" fill="#463480" stroke="#463480"/><circle r="2.35" cx="182.7" cy="184.4" fill="#482173" stroke="#482173"/><circle r="2.35" cx="133.4" cy="194.6" fill="#20928c" stroke="#20928c"/><circle r="2.35" cx="137.1" cy="181.7" fill="#1f948c" stroke="#1f948c"/><circle r="2.35" cx="140.9" cy="168.8" fill="#1e9b8a" stroke="#1e9b8a"/><circle r="2.35" cx="145.7" cy="191.4" fill="#23a983" stroke="#23a983"/><circle r="2.35" cx="153.2" cy="165.6" fill="#297b8e" stroke="#297b8e"/><circle r="2.35" cx="149.5" cy="178.5" fill="#2a768e" stroke="#2a768e"/><circle r="2.35" cx="142.0" cy="204.3" fill="#287d8e" stroke="#287d8e"/><circle r="2.35" cx="158.1" cy="188.3" fill="#34618d" stroke="#34618d"/><circle r="2.35" cx="154.3" cy="201.2" fill="#33628d" stroke="#33628d"/><circle r="2.35" cx="150.6" cy="214.1" fill="#306a8e" stroke="#306a8e"/><circle r="2.35" cx="174.1" cy="172.2" fill="#46327e" stroke="#46327e"/><circle r="2.35" cx="166.7" cy="198.0" fill="#414287" stroke="#414287"/><circle r="2.35" cx="162.9" cy="210.9" fill="#453581" stroke="#453581"/><circle r="2.35" cx="159.2" cy="223.8" fill="#3f4889" stroke="#3f4889"/><circle r="2.35" cx="182.7" cy="181.9" fill="#481c6e" stroke="#481c6e"/><circle r="2.35" cx="186.4" cy="169.0" fill="#482475" stroke="#482475"/><circle r="2.35" cx="179.0" cy="194.8" fill="#481f70" stroke="#481f70"/><circle r="2.35" cx="175.3" cy="207.7" fill="#482173" stroke="#482173"/><circle r="2.35" cx="167.8" cy="233.6" fill="#472c7a" stroke="#472c7a"/><circle r="2.35" cx="171.5" cy="220.6" fill="#481d6f" stroke="#481d6f"/><circle r="2.35" cx="140.8" cy="166.3" fill="#228d8d" stroke="#228d8d"/><circle r="2.35" cx="133.4" cy="192.1" fill="#20928c" stroke="#20928c"/><circle r="2.35" cx="137.1" cy="179.2" fill="#20a386" stroke="#20a386"/><circle r="2.35" cx="149.4" cy="176.1" fill="#26828e" stroke="#26828e"/><circle r="2.35" cx="145.7" cy="189.0" fill="#287d8e" stroke="#287d8e"/><circle r="2.35" cx="142.0" cy="201.9" fill="#28ae80" stroke="#28ae80"/><circle r="2.35" cx="161.7" cy="172.9" fill="#3a548c" stroke="#3a548c"/><circle r="2.35" cx="158.0" cy="185.8" fill="#34618d" stroke="#34618d"/><circle r="2.35" cx="154.3" cy="198.7" fill="#3d4e8a" stroke="#3d4e8a"/><circle r="2.35" cx="150.6" cy="211.6" fill="#355f8d" stroke="#355f8d"/><circle r="2.35" cx="159.2" cy="221.4" fill="#2f6c8e" stroke="#2f6c8e"/><circle r="2.35" cx="174.1" cy="169.7" fill="#424186" stroke="#424186"/><circle r="2.35" cx="166.6" cy="195.6" fill="#3e4a89" stroke="#3e4a89"/><circle r="2.35" cx="162.9" cy="208.5" fill="#3e4c8a" stroke="#3e4c8a"/><circle r="2.35" cx="167.8" cy="231.1" fill="#482878" stroke="#482878"/><circle r="2.35" cx="179.0" cy="192.4" fill="#471365" stroke="#471365"/><circle r="2.35" cx="171.5" cy="218.2" fill="#481f70" stroke="#481f70"/><circle r="2.35" cx="182.7" cy="179.5" fill="#482979" stroke="#482979"/><circle r="2.35" cx="175.2" cy="205.3" fill="#482173" stroke="#482173"/><circle r="2.35" cx="186.4" cy="166.6" fill="#482374" stroke="#482374"/><circle r="2.35" cx="133.3" cy="189.7" fill="#20928c" stroke="#20928c"/><circle r="2.35" cx="137.0" cy="176.8" fill="#1f998a" stroke="#1f998a"/><circle r="2.35" cx="149.4" cy="173.6" fill="#2d708e" stroke="#2d708e"/><circle r="2.35" cx="145.6" cy="186.5" fill="#297b8e" stroke="#297b8e"/><circle r="2.35" cx="141.9" cy="199.4" fill="#20938c" stroke="#20938c"/><circle r="2.35" cx="161.7" cy="170.4" fill="#365c8d" stroke="#365c8d"/><circle r="2.35" cx="150.5" cy="209.2" fill="#365d8d" stroke="#365d8d"/><circle r="2.35" cx="154.2" cy="196.3" fill="#34608d" stroke="#34608d"/><circle r="2.35" cx="158.0" cy="183.4" fill="#375a8c" stroke="#375a8c"/><circle r="2.35" cx="174.0" cy="167.3" fill="#46337f" stroke="#46337f"/><circle r="2.35" cx="159.1" cy="219.0" fill="#433e85" stroke="#433e85"/><circle r="2.35" cx="162.9" cy="206.0" fill="#433e85" stroke="#433e85"/><circle r="2.35" cx="166.6" cy="193.1" fill="#3e4989" stroke="#3e4989"/><circle r="2.35" cx="175.2" cy="202.9" fill="#46327e" stroke="#46327e"/><circle r="2.35" cx="167.7" cy="228.7" fill="#453882" stroke="#453882"/><circle r="2.35" cx="182.7" cy="177.0" fill="#482878" stroke="#482878"/><circle r="2.35" cx="178.9" cy="189.9" fill="#482173" stroke="#482173"/><circle r="2.35" cx="171.5" cy="215.8" fill="#472c7a" stroke="#472c7a"/><circle r="2.35" cx="137.0" cy="174.3" fill="#20928c" stroke="#20928c"/><circle r="2.35" cx="133.2" cy="187.2" fill="#21918c" stroke="#21918c"/><circle r="2.35" cx="145.6" cy="184.1" fill="#25848e" stroke="#25848e"/><circle r="2.35" cx="149.3" cy="171.2" fill="#23888e" stroke="#23888e"/><circle r="2.35" cx="141.9" cy="197.0" fill="#297b8e" stroke="#297b8e"/><circle r="2.35" cx="161.7" cy="168.0" fill="#277e8e" stroke="#277e8e"/><circle r="2.35" cx="154.2" cy="193.8" fill="#34618d" stroke="#34618d"/><circle r="2.35" cx="157.9" cy="180.9" fill="#32648e" stroke="#32648e"/><circle r="2.35" cx="150.5" cy="206.8" fill="#33628d" stroke="#33628d"/><circle r="2.35" cx="166.5" cy="190.7" fill="#433d84" stroke="#433d84"/><circle r="2.35" cx="159.1" cy="216.5" fill="#3f4788" stroke="#3f4788"/><circle r="2.35" cx="162.8" cy="203.6" fill="#453882" stroke="#453882"/><circle r="2.35" cx="182.6" cy="174.6" fill="#482878" stroke="#482878"/><circle r="2.35" cx="171.4" cy="213.4" fill="#482576" stroke="#482576"/><circle r="2.35" cx="175.2" cy="200.4" fill="#472c7a" stroke="#472c7a"/><circle r="2.35" cx="167.7" cy="226.3" fill="#482576" stroke="#482576"/><circle r="2.35" cx="178.9" cy="187.5" fill="#481a6c" stroke="#481a6c"/><circle r="2.35" cx="136.9" cy="171.9" fill="#1f998a" stroke="#1f998a"/><circle r="2.35" cx="133.2" cy="184.8" fill="#20928c" stroke="#20928c"/><circle r="2.35" cx="141.8" cy="194.6" fill="#2a788e" stroke="#2a788e"/><circle r="2.35" cx="149.3" cy="168.7" fill="#2b748e" stroke="#2b748e"/><circle r="2.35" cx="145.5" cy="181.6" fill="#29798e" stroke="#29798e"/><circle r="2.35" cx="150.4" cy="204.3" fill="#33628d" stroke="#33628d"/><circle r="2.35" cx="154.2" cy="191.4" fill="#375b8d" stroke="#375b8d"/><circle r="2.35" cx="157.9" cy="178.5" fill="#3b528b" stroke="#3b528b"/><circle r="2.35" cx="170.2" cy="175.3" fill="#414287" stroke="#414287"/><circle r="2.35" cx="166.5" cy="188.2" fill="#2f6b8e" stroke="#2f6b8e"/><circle r="2.35" cx="159.0" cy="214.1" fill="#3f4788" stroke="#3f4788"/><circle r="2.35" cx="162.8" cy="201.2" fill="#34608d" stroke="#34608d"/><circle r="2.35" cx="175.1" cy="198.0" fill="#482979" stroke="#482979"/><circle r="2.35" cx="171.4" cy="210.9" fill="#482475" stroke="#482475"/><circle r="2.35" cx="178.9" cy="185.0" fill="#481a6c" stroke="#481a6c"/><circle r="2.35" cx="182.6" cy="172.1" fill="#481a6c" stroke="#481a6c"/><circle r="2.35" cx="167.7" cy="223.9" fill="#481f70" stroke="#481f70"/><circle r="2.35" cx="136.9" cy="169.4" fill="#1e9b8a" stroke="#1e9b8a"/><circle r="2.35" cx="133.1" cy="182.3" fill="#20a386" stroke="#20a386"/><circle r="2.35" cx="141.7" cy="192.1" fill="#32648e" stroke="#32648e"/><circle r="2.35" cx="145.5" cy="179.2" fill="#2c738e" stroke="#2c738e"/><circle r="2.35" cx="154.1" cy="188.9" fill="#3e4a89" stroke="#3e4a89"/><circle r="2.35" cx="157.8" cy="176.0" fill="#287c8e" stroke="#287c8e"/><circle r="2.35" cx="150.4" cy="201.9" fill="#375b8d" stroke="#375b8d"/><circle r="2.35" cx="162.7" cy="198.7" fill="#424086" stroke="#424086"/><circle r="2.35" cx="170.2" cy="172.8" fill="#453882" stroke="#453882"/><circle r="2.35" cx="166.5" cy="185.8" fill="#404588" stroke="#404588"/><circle r="2.35" cx="159.0" cy="211.6" fill="#2f6b8e" stroke="#2f6b8e"/><circle r="2.35" cx="182.6" cy="169.6" fill="#482878" stroke="#482878"/><circle r="2.35" cx="178.8" cy="182.6" fill="#471063" stroke="#471063"/><circle r="2.35" cx="167.6" cy="221.4" fill="#482576" stroke="#482576"/><circle r="2.35" cx="171.4" cy="208.5" fill="#472e7c" stroke="#472e7c"/><circle r="2.35" cx="175.1" cy="195.5" fill="#482979" stroke="#482979"/><circle r="2.35" cx="133.1" cy="179.9" fill="#20928c" stroke="#20928c"/><circle r="2.35" cx="145.4" cy="176.7" fill="#23898e" stroke="#23898e"/><circle r="2.35" cx="141.7" cy="189.7" fill="#29798e" stroke="#29798e"/><circle r="2.35" cx="150.3" cy="199.4" fill="#30698e" stroke="#30698e"/><circle r="2.35" cx="154.1" cy="186.5" fill="#287d8e" stroke="#287d8e"/><circle r="2.35" cx="157.8" cy="173.5" fill="#365c8d" stroke="#365c8d"/><circle r="2.35" cx="162.7" cy="196.3" fill="#3e4c8a" stroke="#3e4c8a"/><circle r="2.35" cx="159.0" cy="209.2" fill="#3d4d8a" stroke="#3d4d8a"/><circle r="2.35" cx="170.2" cy="170.4" fill="#404688" stroke="#404688"/><circle r="2.35" cx="166.4" cy="183.3" fill="#472c7a" stroke="#472c7a"/><circle r="2.35" cx="167.6" cy="219.0" fill="#46337f" stroke="#46337f"/><circle r="2.35" cx="171.3" cy="206.0" fill="#482878" stroke="#482878"/><circle r="2.35" cx="175.1" cy="193.1" fill="#482677" stroke="#482677"/><circle r="2.35" cx="178.8" cy="180.1" fill="#482071" stroke="#482071"/><circle r="2.35" cx="133.0" cy="177.4" fill="#21a685" stroke="#21a685"/><circle r="2.35" cx="145.4" cy="174.2" fill="#2b748e" stroke="#2b748e"/><circle r="2.35" cx="141.6" cy="187.2" fill="#2c728e" stroke="#2c728e"/><circle r="2.35" cx="157.8" cy="171.1" fill="#404688" stroke="#404688"/><circle r="2.35" cx="150.3" cy="197.0" fill="#33628d" stroke="#33628d"/><circle r="2.35" cx="154.0" cy="184.0" fill="#33638d" stroke="#33638d"/><circle r="2.35" cx="158.9" cy="206.8" fill="#31688e" stroke="#31688e"/><circle r="2.35" cx="162.7" cy="193.8" fill="#3e4a89" stroke="#3e4a89"/><circle r="2.35" cx="166.4" cy="180.8" fill="#453882" stroke="#453882"/><circle r="2.35" cx="178.8" cy="177.7" fill="#481a6c" stroke="#481a6c"/><circle r="2.35" cx="175.0" cy="190.6" fill="#46307e" stroke="#46307e"/><circle r="2.35" cx="171.3" cy="203.6" fill="#482979" stroke="#482979"/><circle r="2.35" cx="167.5" cy="216.5" fill="#482576" stroke="#482576"/><circle r="2.35" cx="133.0" cy="175.0" fill="#21918c" stroke="#21918c"/><circle r="2.35" cx="141.6" cy="184.7" fill="#277f8e" stroke="#277f8e"/><circle r="2.35" cx="145.3" cy="171.8" fill="#277e8e" stroke="#277e8e"/><circle r="2.35" cx="150.2" cy="194.5" fill="#30698e" stroke="#30698e"/><circle r="2.35" cx="154.0" cy="181.6" fill="#32648e" stroke="#32648e"/><circle r="2.35" cx="158.9" cy="204.3" fill="#3e4a89" stroke="#3e4a89"/><circle r="2.35" cx="166.4" cy="178.4" fill="#46327e" stroke="#46327e"/><circle r="2.35" cx="162.6" cy="191.4" fill="#3f4889" stroke="#3f4889"/><circle r="2.35" cx="175.0" cy="188.2" fill="#482878" stroke="#482878"/><circle r="2.35" cx="167.5" cy="214.1" fill="#482071" stroke="#482071"/><circle r="2.35" cx="178.7" cy="175.2" fill="#481f70" stroke="#481f70"/><circle r="2.35" cx="171.3" cy="201.1" fill="#482475" stroke="#482475"/><circle r="2.35" cx="132.9" cy="172.5" fill="#1e9b8a" stroke="#1e9b8a"/><circle r="2.35" cx="141.5" cy="182.3" fill="#24868e" stroke="#24868e"/><circle r="2.35" cx="153.9" cy="179.1" fill="#38598c" stroke="#38598c"/><circle r="2.35" cx="150.2" cy="192.1" fill="#3e4a89" stroke="#3e4a89"/><circle r="2.35" cx="166.3" cy="175.9" fill="#423f85" stroke="#423f85"/><circle r="2.35" cx="158.8" cy="201.9" fill="#482677" stroke="#482677"/><circle r="2.35" cx="162.6" cy="188.9" fill="#414287" stroke="#414287"/><circle r="2.35" cx="175.0" cy="185.7" fill="#471164" stroke="#471164"/><circle r="2.35" cx="171.2" cy="198.7" fill="#472a7a" stroke="#472a7a"/><circle r="2.35" cx="167.5" cy="211.7" fill="#482878" stroke="#482878"/><circle r="2.35" cx="178.7" cy="172.7" fill="#482576" stroke="#482576"/><circle r="2.35" cx="141.5" cy="179.8" fill="#2a788e" stroke="#2a788e"/><circle r="2.35" cx="153.9" cy="176.6" fill="#365d8d" stroke="#365d8d"/><circle r="2.35" cx="150.1" cy="189.6" fill="#3d4d8a" stroke="#3d4d8a"/><circle r="2.35" cx="158.8" cy="199.4" fill="#433e85" stroke="#433e85"/><circle r="2.35" cx="166.3" cy="173.5" fill="#424086" stroke="#424086"/><circle r="2.35" cx="162.5" cy="186.4" fill="#414287" stroke="#414287"/><circle r="2.35" cx="174.9" cy="183.3" fill="#481a6c" stroke="#481a6c"/><circle r="2.35" cx="167.4" cy="209.2" fill="#482878" stroke="#482878"/><circle r="2.35" cx="171.2" cy="196.2" fill="#472a7a" stroke="#472a7a"/><circle r="2.35" cx="141.4" cy="177.4" fill="#287d8e" stroke="#287d8e"/><circle r="2.35" cx="153.8" cy="174.2" fill="#365d8d" stroke="#365d8d"/><circle r="2.35" cx="150.1" cy="187.2" fill="#38598c" stroke="#38598c"/><circle r="2.35" cx="162.5" cy="184.0" fill="#414487" stroke="#414487"/><circle r="2.35" cx="158.7" cy="197.0" fill="#482677" stroke="#482677"/><circle r="2.35" cx="167.4" cy="206.8" fill="#46307e" stroke="#46307e"/><circle r="2.35" cx="171.1" cy="193.8" fill="#482979" stroke="#482979"/><circle r="2.35" cx="174.9" cy="180.8" fill="#472f7d" stroke="#472f7d"/><circle r="2.35" cx="141.4" cy="174.9" fill="#29798e" stroke="#29798e"/><circle r="2.35" cx="150.0" cy="184.7" fill="#355f8d" stroke="#355f8d"/><circle r="2.35" cx="162.4" cy="181.5" fill="#423f85" stroke="#423f85"/><circle r="2.35" cx="158.7" cy="194.5" fill="#433d84" stroke="#433d84"/><circle r="2.35" cx="174.9" cy="178.3" fill="#482475" stroke="#482475"/><circle r="2.35" cx="171.1" cy="191.3" fill="#482576" stroke="#482576"/><circle r="2.35" cx="167.4" cy="204.3" fill="#433d84" stroke="#433d84"/><circle r="2.35" cx="150.0" cy="182.2" fill="#355e8d" stroke="#355e8d"/><circle r="2.35" cx="162.4" cy="179.0" fill="#404588" stroke="#404588"/><circle r="2.35" cx="158.7" cy="192.0" fill="#3d4e8a" stroke="#3d4e8a"/><circle r="2.35" cx="174.8" cy="175.8" fill="#453781" stroke="#453781"/><circle r="2.35" cx="167.3" cy="201.9" fill="#482173" stroke="#482173"/><circle r="2.35" cx="171.1" cy="188.9" fill="#46327e" stroke="#46327e"/><circle r="2.35" cx="149.9" cy="179.8" fill="#33638d" stroke="#33638d"/><circle r="2.35" cx="162.4" cy="176.6" fill="#433d84" stroke="#433d84"/><circle r="2.35" cx="158.6" cy="189.6" fill="#3e4989" stroke="#3e4989"/><circle r="2.35" cx="167.3" cy="199.4" fill="#481f70" stroke="#481f70"/><circle r="2.35" cx="171.0" cy="186.4" fill="#482374" stroke="#482374"/><circle r="2.35" cx="149.9" cy="177.3" fill="#375b8d" stroke="#375b8d"/><circle r="2.35" cx="158.6" cy="187.1" fill="#3f4889" stroke="#3f4889"/><circle r="2.35" cx="171.0" cy="183.9" fill="#453581" stroke="#453581"/><circle r="2.35" cx="167.2" cy="196.9" fill="#481f70" stroke="#481f70"/><circle r="2.35" cx="158.5" cy="184.6" fill="#424086" stroke="#424086"/><circle r="2.35" cx="171.0" cy="181.4" fill="#482071" stroke="#482071"/><circle r="2.35" cx="167.2" cy="194.5" fill="#482979" stroke="#482979"/><circle r="2.35" cx="158.5" cy="182.2" fill="#3e4a89" stroke="#3e4a89"/><circle r="2.35" cx="170.9" cy="179.0" fill="#482576" stroke="#482576"/><circle r="2.35" cx="167.2" cy="192.0" fill="#472a7a" stroke="#472a7a"/><circle r="2.35" cx="158.4" cy="179.7" fill="#3f4788" stroke="#3f4788"/><circle r="2.35" cx="167.1" cy="189.5" fill="#472d7b" stroke="#472d7b"/><circle r="2.35" cx="167.1" cy="187.1" fill="#482677" stroke="#482677"/><circle r="2.35" cx="167.1" cy="184.6" fill="#472e7c" stroke="#472e7c"/><circle r="2.35" cx="167.0" cy="182.1" fill="#482475" stroke="#482475"/></g></g>
<defs><linearGradient id="vir" x1="0" y1="0" x2="0" y2="1"><stop offset="0.000" stop-color="#fde725"/><stop offset="0.062" stop-color="#d8e219"/><stop offset="0.125" stop-color="#addc30"/><stop offset="0.188" stop-color="#84d44b"/><stop offset="0.250" stop-color="#5ec962"/><stop offset="0.312" stop-color="#3fbc73"/><stop offset="0.375" stop-color="#28ae80"/><stop offset="0.438" stop-color="#1fa088"/><stop offset="0.500" stop-color="#21918c"/><stop offset="0.562" stop-color="#26828e"/><stop offset="0.625" stop-color="#2c728e"/><stop offset="0.688" stop-color="#33638d"/><stop offset="0.750" stop-color="#3b528b"/><stop offset="0.812" stop-color="#424086"/><stop offset="0.875" stop-color="#472d7b"/><stop offset="0.938" stop-color="#48186a"/><stop offset="1.000" stop-color="#440154"/></linearGradient></defs><rect x="476.40" y="129.56" width="43.75" height="221.37" fill="url(#vir)"/>
<path transform="translate(520.15 350.93)" d="M0 0L3.5 0" fill="none" stroke="#000" stroke-width="1"/>
<text x="527.15" y="354.73">151</text>
<path transform="translate(520.15 326.33)" d="M0 0L3.5 0" fill="none" stroke="#000" stroke-width="1"/>
<text x="527.15" y="330.13">163</text>
<path transform="translate(520.15 301.74)" d="M0 0L3.5 0" fill="none" stroke="#000" stroke-width="1"/>
<text x="527.15" y="305.53">175</text>
<path transform="translate(520.15 277.14)" d="M0 0L3.5 0" fill="none" stroke="#000" stroke-width="1"/>
<text x="527.15" y="280.94">187</text>
<path transform="translate(520.15 252.54)" d="M0 0L3.5 0" fill="none" stroke="#000" stroke-width="1"/>
<text x="527.15" y="256.34">199</text>
<path transform="translate(520.15 227.95)" d="M0 0L3.5 0" fill="none" stroke="#000" stroke-width="1"/>
<text x="527.15" y="231.75">211</text>
<path transform="translate(520.15 203.35)" d="M0 0L3.5 0" fill="none" stroke="#000" stroke-width="1"/>
<text x="527.15" y="207.15">223</text>
<path transform="translate(520.15 178.75)" d="M0 0L3.5 0" fill="none" stroke="#000" stroke-width="1"/>
<text x="527.15" y="182.55">235</text>
<path transform="translate(520.15 154.16)" d="M0 0L3.5 0" fill="none" stroke="#000" stroke-width="1"/>
<text x="527.15" y="157.96">247</text>
<path transform="translate(520.15 129.56)" d="M0 0L3.5 0" fill="none" stroke="#000" stroke-width="1"/>
<text x="527.15" y="133.36">259</text>
<text x="557.83" y="240.24" transform="rotate(-90.000 557.83 240.24)" text-anchor="middle">Total Number of Plates</text>
<path d="M476.4 350.93L498.27 350.93L520.15 350.93L520.15 129.56L498.27 129.56L476.4 129.56L476.4 350.93z" fill="none" stroke="#000" stroke-width="1" stroke-linecap="square" stroke-linejoin="miter"/>
</svg>
<div id="frame"></div>
<svg id="portrait" style="position:absolute;left:875px;top:110px" width="205" height="230" viewBox="0 0 1600 1795">
<defs>
<clipPath id="pc"><rect x="34.3" y="31.2" width="1516.6" height="1723.4"/></clipPath>
<filter id="b6" x="-20%" y="-20%" width="140%" height="140%"><feGaussianBlur stdDeviation="6"/></filter>
<filter id="b10" x="-20%" y="-20%" width="140%" height="140%"><feGaussianBlur stdDeviation="10"/></filter>
<filter id="b14" x="-30%" y="-30%" width="160%" height="160%"><feGaussianBlur stdDeviation="14"/></filter>
<filter id="b30" x="-50%" y="-50%" width="200%" height="200%"><feGaussianBlur stdDeviation="30"/></filter>
<radialGradient id="gDark"><stop offset="0" stop-color="#292021"/><stop offset="1" stop-color="#292021" stop-opacity="0"/></radialGradient>
<radialGradient id="gWarm"><stop offset="0" stop-color="#806040"/><stop offset=".5" stop-color="#6a4e36" stop-opacity=".75"/><stop offset="1" stop-color="#574232" stop-opacity="0"/></radialGradient>
<radialGradient id="gGlow"><stop offset="0" stop-color="#a57c4a"/><stop offset="1" stop-color="#8a6540" stop-opacity="0"/></radialGradient>
<linearGradient id="gStrip" x1="0" y1="0" x2="0" y2="1"><stop offset="0" stop-color="#5e4b3a"/><stop offset=".55" stop-color="#503f33"/><stop offset="1" stop-color="#3c2f29"/></linearGradient>
<linearGradient id="gFace" x1="0" y1="0" x2="0" y2="1"><stop offset="0" stop-color="#f6cf9f"/><stop offset=".42" stop-color="#eeaa72"/><stop offset=".7" stop-color="#e58e5a"/><stop offset="1" stop-color="#d98252"/></linearGradient>
<linearGradient id="gHair" x1="0" y1="0" x2="1" y2="0"><stop offset="0" stop-color="#46311f"/><stop offset=".45" stop-color="#3a281b"/><stop offset="1" stop-color="#2e1f17"/></linearGradient>
<clipPath id="fc"><path d="M446,700 C452,600 478,480 525,415 C600,392 690,400 742,382 C800,398 920,388 1015,402 C1045,470 1062,590 1098,720 C1116,800 1128,900 1120,960 C1110,1100 1010,1240 905,1285 C840,1315 720,1315 640,1268 C560,1205 470,1050 442,940 C430,860 440,780 446,700 Z"/></clipPath>
</defs>
<g clip-path="url(#pc)">
<!-- background -->
<rect x="0" y="0" width="1600" height="1795" fill="#382b26"/>
<ellipse cx="420" cy="230" rx="800" ry="520" fill="url(#gDark)"/>
<rect x="1195" y="0" width="420" height="1500" fill="url(#gStrip)" filter="url(#b10)"/>
<ellipse cx="120" cy="1250" rx="430" ry="480" fill="url(#gWarm)"/>
<ellipse cx="60" cy="1390" rx="300" ry="170" fill="url(#gGlow)"/>
<!-- hair -->
<g filter="url(#b6)">
<path d="M400,820 C340,760 300,680 308,600 C312,520 370,440 440,370 C480,330 485,290 472,240 C490,180 560,135 650,118 C760,98 900,100 985,145 C1035,190 1050,250 1062,305 C1090,345 1180,395 1255,475 C1300,540 1300,620 1275,680 C1240,750 1180,800 1145,850 L1100,700 L1000,420 L600,410 L480,600 Z" fill="url(#gHair)"/>
</g>
<g filter="url(#b14)" fill="none" stroke-linecap="round">
<path d="M560,330 C640,290 730,240 820,175" stroke="#5f432e" stroke-width="76"/>
<path d="M585,325 C650,295 730,245 800,195" stroke="#80603f" stroke-width="28"/>
<path d="M722,375 C718,335 726,300 738,270" stroke="#5a3f2b" stroke-width="24"/>
<path d="M500,250 C560,200 640,170 720,160" stroke="#3f2c1f" stroke-width="40"/>
<path d="M395,500 C365,590 385,680 430,750" stroke="#573d2a" stroke-width="60"/>
<path d="M420,560 C405,620 420,680 450,730" stroke="#6b4c34" stroke-width="22"/>
<path d="M350,560 C335,620 345,690 385,750" stroke="#4f3826" stroke-width="30"/>
<path d="M470,420 C440,470 425,520 425,560" stroke="#5a402b" stroke-width="30"/>
<path d="M1060,380 C1120,420 1170,470 1200,530" stroke="#4a3424" stroke-width="34"/>
<path d="M620,150 C700,125 800,120 880,135" stroke="#3f2b1d" stroke-width="30"/>
<path d="M1140,470 C1210,540 1235,610 1200,710" stroke="#442f21" stroke-width="60"/>
<path d="M746,385 L752,300" stroke="#241812" stroke-width="8"/>
</g>
<!-- ears -->
<g filter="url(#b6)">
<ellipse cx="418" cy="845" rx="36" ry="78" fill="#d68d5c"/>
<ellipse cx="1128" cy="858" rx="30" ry="70" fill="#c0764a"/>
</g>
<!-- face -->
<g filter="url(#b6)">
<path d="M446,700 C452,600 478,480 525,415 C600,392 690,400 742,382 C800,398 920,388 1015,402 C1045,470 1062,590 1098,720 C1116,800 1128,900 1120,960 C1110,1100 1010,1240 905,1285 C840,1315 720,1315 640,1268 C560,1205 470,1050 442,940 C430,860 440,780 446,700 Z" fill="url(#gFace)"/>
</g>
<g clip-path="url(#fc)">
<g filter="url(#b30)">
<ellipse cx="740" cy="530" rx="260" ry="125" fill="#ffecc8"/>
<ellipse cx="720" cy="520" rx="170" ry="80" fill="#fff3d6"/>
<ellipse cx="610" cy="890" rx="90" ry="60" fill="#f7c898"/>
<ellipse cx="930" cy="890" rx="80" ry="55" fill="#f2bb88"/>
<ellipse cx="1045" cy="1030" rx="75" ry="150" fill="#c97346"/>
<ellipse cx="960" cy="1180" rx="60" ry="90" fill="#c9744a"/>
<ellipse cx="530" cy="1050" rx="60" ry="130" fill="#df8858"/>
<ellipse cx="1065" cy="730" rx="45" ry="150" fill="#d68c5b"/>
<ellipse cx="482" cy="760" rx="30" ry="110" fill="#dc9665"/>
<ellipse cx="770" cy="1225" rx="110" ry="40" fill="#ea9f6c"/>
</g>
<g filter="url(#b14)">
<ellipse cx="612" cy="736" rx="108" ry="44" fill="#b87c50"/>
<ellipse cx="922" cy="731" rx="108" ry="44" fill="#b87c50"/>
<path d="M745,700 C738,800 728,880 700,940 C710,965 745,978 775,978 C815,978 850,965 858,935 C842,900 812,800 800,700 Z" fill="#f6c590"/>
<path d="M768,720 L773,920" stroke="#f9d3a2" stroke-width="18" fill="none"/>
<ellipse cx="775" cy="968" rx="86" ry="22" fill="#9c5030"/>
<ellipse cx="712" cy="880" rx="22" ry="80" fill="#d98e5a"/>
<ellipse cx="850" cy="905" rx="20" ry="50" fill="#dc9563"/>
<path d="M555,1175 C640,1295 900,1305 990,1175" fill="none" stroke="#ad643c" stroke-width="36"/>
<ellipse cx="766" cy="1145" rx="85" ry="18" fill="#bd6a44"/>
<ellipse cx="760" cy="1215" rx="70" ry="34" fill="#efa674"/>
</g>
</g>
<g filter="url(#b6)">
<path d="M492,698 C560,655 650,652 726,690" fill="none" stroke="#7c5b3e" stroke-width="30" stroke-linecap="round"/>
<path d="M826,690 C900,650 985,648 1046,672" fill="none" stroke="#7c5b3e" stroke-width="30" stroke-linecap="round"/>
<ellipse cx="620" cy="744" rx="60" ry="20" fill="#cfb595"/>
<ellipse cx="912" cy="740" rx="60" ry="20" fill="#cfb595"/>
<circle cx="620" cy="740" r="22" fill="#586f67"/>
<circle cx="912" cy="736" r="22" fill="#586f67"/>
<circle cx="620" cy="738" r="11" fill="#1b1c1c"/>
<circle cx="912" cy="734" r="11" fill="#1b1c1c"/>
<path d="M552,740 C590,708 650,708 692,742" fill="none" stroke="#4d3020" stroke-width="12"/>
<path d="M845,738 C880,704 945,702 987,732" fill="none" stroke="#4d3020" stroke-width="12"/>
<path d="M648,1070 C700,1046 740,1050 766,1060 C795,1050 835,1046 884,1070 C820,1088 720,1088 648,1070 Z" fill="#a24c35"/>
<path d="M672,1084 C720,1092 815,1092 862,1084 C840,1124 700,1124 672,1084 Z" fill="#d27a58"/>
</g>
<!-- collar / cravat -->
<g filter="url(#b6)">
<path d="M432,953 L438,1128 L520,1198 L500,1378 L478,1498 L500,1658 L470,1760 L740,1760 L900,1548 L1020,1378 L1085,1188 L1110,1098 L1120,938 L975,1103 L965,1198 C940,1250 880,1290 800,1308 C740,1312 680,1290 620,1258 C580,1230 545,1170 490,1068 L450,978 Z" fill="#f6f0e3"/>
</g>
<g filter="url(#b14)">
<path d="M1114,950 L982,1105 L972,1205 L1000,1335 L1085,1190 L1108,1100 Z" fill="#ccd6ca"/>
<path d="M438,985 L445,1125 L520,1195 L565,1240 L480,1075 Z" fill="#e6dbc4"/>
<path d="M545,1240 C640,1335 860,1352 985,1228" fill="none" stroke="#a08c60" stroke-width="22"/>
<path d="M525,1300 C640,1388 860,1402 1000,1322" fill="none" stroke="#cdbd98" stroke-width="18"/>
<path d="M500,1385 C600,1362 700,1400 830,1380" fill="none" stroke="#e0d8c2" stroke-width="18"/>
<path d="M590,1515 C650,1562 740,1562 805,1520" fill="none" stroke="#93a190" stroke-width="34"/>
<path d="M610,1545 C590,1620 560,1700 540,1760" fill="none" stroke="#d3d4c4" stroke-width="28"/>
<path d="M805,1400 C845,1450 835,1500 795,1540" fill="none" stroke="#dcdece" stroke-width="20"/>
<path d="M830,1560 C790,1620 760,1700 745,1760" fill="none" stroke="#e2e0d0" stroke-width="24"/>
</g>
<!-- coat -->
<g filter="url(#b6)">
<path d="M0,1475 L130,1388 L250,1372 L330,1298 L400,1218 L450,1163 L485,1168 L522,1198 L502,1378 L480,1498 L502,1658 L470,1760 L0,1760 Z" fill="#17151d"/>
<path d="M1120,935 L1150,915 L1200,1008 L1280,1178 L1400,1318 L1600,1450 L1600,1760 L740,1760 L900,1548 L1020,1378 L1085,1188 L1110,1098 Z" fill="#17151d"/>
</g>
<g filter="url(#b30)" opacity=".6">
<path d="M1190,1150 C1250,1320 1270,1500 1240,1700" fill="none" stroke="#23212a" stroke-width="50"/>
<path d="M260,1480 C300,1560 330,1650 330,1750" fill="none" stroke="#201e27" stroke-width="50"/>
</g>
</g>
</svg>

<div class="ln q" id="q1" style="left:874.6px;top:373.5px"><span style="letter-spacing:.35px">“Each plate was </span><b style="letter-spacing:-.35px">six inches wide</b><span style="letter-spacing:.67px"> and </span><b style="letter-spacing:-.32px">eight inches long</b></div>
<div class="ln q" id="q2" style="left:874.6px;top:405.5px"><span style="letter-spacing:.8px">and not quite so </span><b style="letter-spacing:-.06px">thick as common tin</b><span style="letter-spacing:.7px">. . .the volume</span></div>
<div class="ln q" id="q3" style="left:874.6px;top:438.1px"><span style="letter-spacing:.59px">was something </span><b style="letter-spacing:-.37px">near six inches</b><span style="letter-spacing:.3px"> in thickness…”</span></div>
<div class="ln" id="q4" style="left:873.5px;top:487.6px;font-size:23.5px;letter-spacing:.9px">(March 1842)</div>
<div class="ln f" id="f1" style="left:873.5px;top:594px">From 559,457,522 down to</div>
<div class="ln f" id="f2" style="left:873.5px;top:640.2px"><b>2,266,258</b> valid configurations.</div>
<div id="box"></div>
<div class="ln bl" id="b1" style="left:44.5px;top:747.8px"><span class="bu">•</span><span class="bt">minimum weight of about <b>42 lb</b>.</span></div>
<div class="ln bl" id="b2" style="left:44.5px;top:783.5px"><span class="bu">•</span><span class="bt">alloy of less than <b>48%</b> gold</span></div>
<div class="ln bl" id="b3" style="left:44.5px;top:819.2px"><span class="bu">•</span><span class="bt">a total number of plates between <b>151 and 259</b></span></div>
</body>
</html>
